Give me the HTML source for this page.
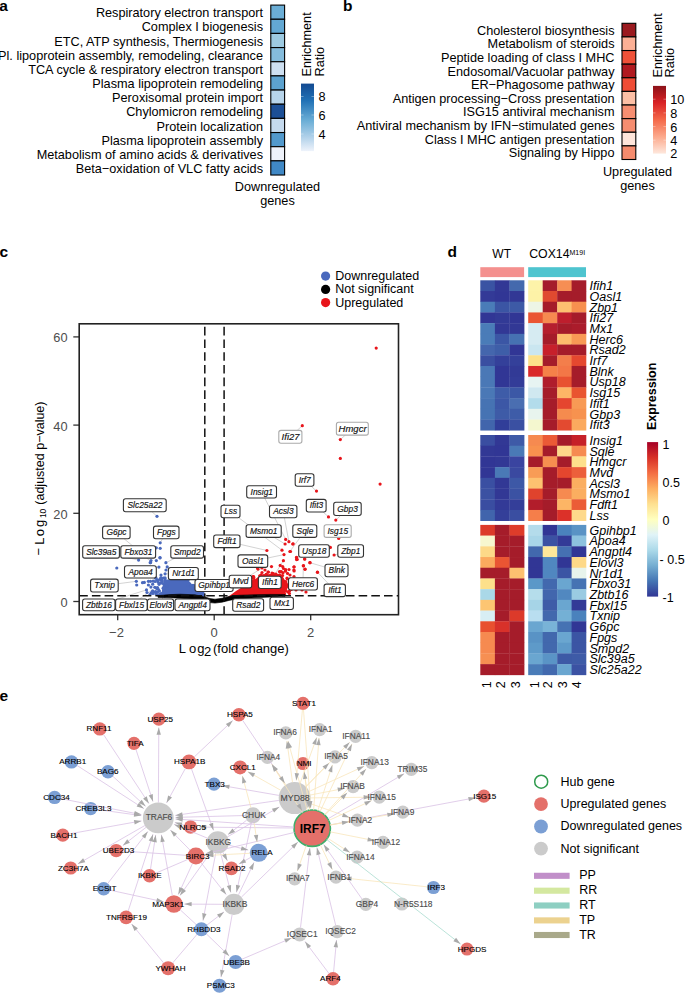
<!DOCTYPE html>
<html><head><meta charset="utf-8"><style>
html,body{margin:0;padding:0;background:#fff;}
svg{display:block;font-family:"Liberation Sans",sans-serif;}
</style></head><body>
<svg width="685" height="995" viewBox="0 0 685 995">
<rect width="685" height="995" fill="#fff"/>
<text x="-0.8" y="10.6" font-size="15.5" font-weight="bold">a</text>
<rect x="270.8" y="5.10" width="13.80" height="14.16" fill="#6baed6" stroke="#000" stroke-width="1.1"/>
<text x="263.0" y="17.2" font-size="12.7" text-anchor="end" >Respiratory electron transport</text>
<rect x="270.8" y="19.26" width="13.80" height="14.16" fill="#63a8d3" stroke="#000" stroke-width="1.1"/>
<text x="263.0" y="31.3" font-size="12.7" text-anchor="end" >Complex I biogenesis</text>
<rect x="270.8" y="33.42" width="13.80" height="14.16" fill="#9dcae1" stroke="#000" stroke-width="1.1"/>
<text x="263.0" y="45.5" font-size="12.7" text-anchor="end" >ETC, ATP synthesis, Thermiogenesis</text>
<rect x="270.8" y="47.58" width="13.80" height="14.16" fill="#85bcdc" stroke="#000" stroke-width="1.1"/>
<text x="263.0" y="59.7" font-size="12.7" text-anchor="end" >Pl. lipoprotein assembly, remodeling, clearance</text>
<rect x="270.8" y="61.74" width="13.80" height="14.16" fill="#cddff0" stroke="#000" stroke-width="1.1"/>
<text x="263.0" y="73.8" font-size="12.7" text-anchor="end" >TCA cycle &amp; respiratory electron transport</text>
<rect x="270.8" y="75.90" width="13.80" height="14.16" fill="#5ca2cf" stroke="#000" stroke-width="1.1"/>
<text x="263.0" y="88.0" font-size="12.7" text-anchor="end" >Plasma lipoprotein remodeling</text>
<rect x="270.8" y="90.06" width="13.80" height="14.16" fill="#b7d4ea" stroke="#000" stroke-width="1.1"/>
<text x="263.0" y="102.1" font-size="12.7" text-anchor="end" >Peroxisomal protein import</text>
<rect x="270.8" y="104.22" width="13.80" height="14.16" fill="#1c4f96" stroke="#000" stroke-width="1.1"/>
<text x="263.0" y="116.3" font-size="12.7" text-anchor="end" >Chylomicron remodeling</text>
<rect x="270.8" y="118.38" width="13.80" height="14.16" fill="#c5daee" stroke="#000" stroke-width="1.1"/>
<text x="263.0" y="130.5" font-size="12.7" text-anchor="end" >Protein localization</text>
<rect x="270.8" y="132.54" width="13.80" height="14.16" fill="#5299cc" stroke="#000" stroke-width="1.1"/>
<text x="263.0" y="144.6" font-size="12.7" text-anchor="end" >Plasma lipoprotein assembly</text>
<rect x="270.8" y="146.70" width="13.80" height="14.16" fill="#eef2fa" stroke="#000" stroke-width="1.1"/>
<text x="263.0" y="158.8" font-size="12.7" text-anchor="end" >Metabolism of amino acids &amp; derivatives</text>
<rect x="270.8" y="160.86" width="13.80" height="14.16" fill="#4088c5" stroke="#000" stroke-width="1.1"/>
<text x="263.0" y="172.9" font-size="12.7" text-anchor="end" >Beta−oxidation of VLC fatty acids</text>
<defs><linearGradient id="gA" x1="0" y1="0" x2="0" y2="1"><stop offset="0" stop-color="#134a91"/><stop offset="0.25" stop-color="#2171b5"/><stop offset="0.55" stop-color="#6baed6"/><stop offset="0.8" stop-color="#b3d2ea"/><stop offset="1" stop-color="#eef3fb"/></linearGradient></defs>
<rect x="301" y="83.6" width="13" height="67.5" fill="url(#gA)"/>
<text x="318.5" y="101.0" font-size="12.7" text-anchor="start" >8</text>
<line x1="301" x2="303.5" y1="96.5" y2="96.5" stroke="#fff" stroke-opacity="0.6" stroke-width="0.6"/>
<line x1="311.5" x2="314" y1="96.5" y2="96.5" stroke="#fff" stroke-opacity="0.6" stroke-width="0.6"/>
<text x="318.5" y="119.5" font-size="12.7" text-anchor="start" >6</text>
<line x1="301" x2="303.5" y1="115" y2="115" stroke="#fff" stroke-opacity="0.6" stroke-width="0.6"/>
<line x1="311.5" x2="314" y1="115" y2="115" stroke="#fff" stroke-opacity="0.6" stroke-width="0.6"/>
<text x="318.5" y="138.5" font-size="12.7" text-anchor="start" >4</text>
<line x1="301" x2="303.5" y1="134" y2="134" stroke="#fff" stroke-opacity="0.6" stroke-width="0.6"/>
<line x1="311.5" x2="314" y1="134" y2="134" stroke="#fff" stroke-opacity="0.6" stroke-width="0.6"/>
<text x="0.0" y="0.0" font-size="12.7" text-anchor="start" transform="translate(310.5,76.5) rotate(-90)">Enrichment</text>
<text x="0.0" y="0.0" font-size="12.7" text-anchor="start" transform="translate(323.5,76.5) rotate(-90)">Ratio</text>
<text x="277.5" y="191.0" font-size="12.7" text-anchor="middle" >Downregulated</text>
<text x="277.5" y="205.0" font-size="12.7" text-anchor="middle" >genes</text>
<text x="342.9" y="10.6" font-size="15.5" font-weight="bold">b</text>
<rect x="622.0" y="23.30" width="13.80" height="13.62" fill="#9a1a1f" stroke="#000" stroke-width="1.1"/>
<text x="614.5" y="34.6" font-size="12.7" text-anchor="end" >Cholesterol biosynthesis</text>
<rect x="622.0" y="36.92" width="13.80" height="13.62" fill="#fcb095" stroke="#000" stroke-width="1.1"/>
<text x="614.5" y="48.2" font-size="12.7" text-anchor="end" >Metabolism of steroids</text>
<rect x="622.0" y="50.54" width="13.80" height="13.62" fill="#ef5138" stroke="#000" stroke-width="1.1"/>
<text x="614.5" y="61.9" font-size="12.7" text-anchor="end" >Peptide loading of class I MHC</text>
<rect x="622.0" y="64.16" width="13.80" height="13.62" fill="#b0191f" stroke="#000" stroke-width="1.1"/>
<text x="614.5" y="75.5" font-size="12.7" text-anchor="end" >Endosomal/Vacuolar pathway</text>
<rect x="622.0" y="77.78" width="13.80" height="13.62" fill="#ef4c35" stroke="#000" stroke-width="1.1"/>
<text x="614.5" y="89.1" font-size="12.7" text-anchor="end" >ER−Phagosome pathway</text>
<rect x="622.0" y="91.40" width="13.80" height="13.62" fill="#fcbfa5" stroke="#000" stroke-width="1.1"/>
<text x="614.5" y="102.7" font-size="12.7" text-anchor="end" >Antigen processing−Cross presentation</text>
<rect x="622.0" y="105.02" width="13.80" height="13.62" fill="#f68e71" stroke="#000" stroke-width="1.1"/>
<text x="614.5" y="116.3" font-size="12.7" text-anchor="end" >ISG15 antiviral mechanism</text>
<rect x="622.0" y="118.64" width="13.80" height="13.62" fill="#f68d70" stroke="#000" stroke-width="1.1"/>
<text x="614.5" y="129.9" font-size="12.7" text-anchor="end" >Antiviral mechanism by IFN−stimulated genes</text>
<rect x="622.0" y="132.26" width="13.80" height="13.62" fill="#fee5da" stroke="#000" stroke-width="1.1"/>
<text x="614.5" y="143.6" font-size="12.7" text-anchor="end" >Class I MHC antigen presentation</text>
<rect x="622.0" y="145.88" width="13.80" height="13.62" fill="#f58b6d" stroke="#000" stroke-width="1.1"/>
<text x="614.5" y="157.2" font-size="12.7" text-anchor="end" >Signaling by Hippo</text>
<defs><linearGradient id="gB" x1="0" y1="0" x2="0" y2="1"><stop offset="0" stop-color="#8c1219"/><stop offset="0.25" stop-color="#d92326"/><stop offset="0.5" stop-color="#f4694a"/><stop offset="0.75" stop-color="#fca98c"/><stop offset="1" stop-color="#fee8dd"/></linearGradient></defs>
<rect x="653" y="85.9" width="13" height="67.7" fill="url(#gB)"/>
<text x="670.2" y="104.2" font-size="12.7" text-anchor="start" >10</text>
<line x1="653" x2="655.5" y1="99.2" y2="99.2" stroke="#fff" stroke-opacity="0.6" stroke-width="0.6"/>
<line x1="663.5" x2="666" y1="99.2" y2="99.2" stroke="#fff" stroke-opacity="0.6" stroke-width="0.6"/>
<text x="670.2" y="117.9" font-size="12.7" text-anchor="start" >8</text>
<line x1="653" x2="655.5" y1="112.9" y2="112.9" stroke="#fff" stroke-opacity="0.6" stroke-width="0.6"/>
<line x1="663.5" x2="666" y1="112.9" y2="112.9" stroke="#fff" stroke-opacity="0.6" stroke-width="0.6"/>
<text x="670.2" y="131.6" font-size="12.7" text-anchor="start" >6</text>
<line x1="653" x2="655.5" y1="126.6" y2="126.6" stroke="#fff" stroke-opacity="0.6" stroke-width="0.6"/>
<line x1="663.5" x2="666" y1="126.6" y2="126.6" stroke="#fff" stroke-opacity="0.6" stroke-width="0.6"/>
<text x="670.2" y="145.2" font-size="12.7" text-anchor="start" >4</text>
<line x1="653" x2="655.5" y1="140.2" y2="140.2" stroke="#fff" stroke-opacity="0.6" stroke-width="0.6"/>
<line x1="663.5" x2="666" y1="140.2" y2="140.2" stroke="#fff" stroke-opacity="0.6" stroke-width="0.6"/>
<text x="670.2" y="157.8" font-size="12.7" text-anchor="start" >2</text>
<text x="0.0" y="0.0" font-size="12.7" text-anchor="start" transform="translate(661.5,77.5) rotate(-90)">Enrichment</text>
<text x="0.0" y="0.0" font-size="12.7" text-anchor="start" transform="translate(674,77.5) rotate(-90)">Ratio</text>
<text x="637.5" y="176.4" font-size="12.7" text-anchor="middle" >Upregulated</text>
<text x="637.5" y="190.0" font-size="12.7" text-anchor="middle" >genes</text>
<text x="-0.6" y="256.7" font-size="15.5" font-weight="bold">c</text>
<circle cx="325.6" cy="276.1" r="4.6" fill="#4a69bd"/>
<text x="335.2" y="280.0" font-size="12.5" text-anchor="start" >Downregulated</text>
<circle cx="325.6" cy="289.4" r="4.6" fill="#000"/>
<text x="335.2" y="293.3" font-size="12.5" text-anchor="start" >Not significant</text>
<circle cx="325.6" cy="302.6" r="4.6" fill="#e8151b"/>
<text x="335.2" y="306.5" font-size="12.5" text-anchor="start" >Upregulated</text>
<line x1="73.3" x2="79.2" y1="601.5" y2="601.5" stroke="#333" stroke-width="1.3"/>
<text x="67.6" y="606.9" font-size="12.8" text-anchor="end" fill="#4d4d4d">0</text>
<line x1="73.3" x2="79.2" y1="513.3" y2="513.3" stroke="#333" stroke-width="1.3"/>
<text x="67.6" y="518.7" font-size="12.8" text-anchor="end" fill="#4d4d4d">20</text>
<line x1="73.3" x2="79.2" y1="425.1" y2="425.1" stroke="#333" stroke-width="1.3"/>
<text x="67.6" y="430.5" font-size="12.8" text-anchor="end" fill="#4d4d4d">40</text>
<line x1="73.3" x2="79.2" y1="336.9" y2="336.9" stroke="#333" stroke-width="1.3"/>
<text x="67.6" y="342.3" font-size="12.8" text-anchor="end" fill="#4d4d4d">60</text>
<line x1="117.7" x2="117.7" y1="614.7" y2="620.3" stroke="#333" stroke-width="1.3"/>
<text x="116.5" y="636.8" font-size="13" text-anchor="middle" fill="#4d4d4d">−2</text>
<line x1="214.2" x2="214.2" y1="614.7" y2="620.3" stroke="#333" stroke-width="1.3"/>
<text x="214.2" y="636.8" font-size="13" text-anchor="middle" fill="#4d4d4d">0</text>
<line x1="310.7" x2="310.7" y1="614.7" y2="620.3" stroke="#333" stroke-width="1.3"/>
<text x="310.7" y="636.8" font-size="13" text-anchor="middle" fill="#4d4d4d">2</text>
<text font-size="13" y="652.8"><tspan x="178.85">L</tspan><tspan x="188.95">o</tspan><tspan x="197.15">g</tspan><tspan x="203.9" dy="3">2</tspan><tspan x="213.0" dy="-3">(fold change)</tspan></text>
<text font-size="13" transform="translate(43.9,559.5) rotate(-90)"><tspan x="4.0" dy="-0.9">−</tspan><tspan x="14.75" dy="0.9">L</tspan><tspan x="23.35">o</tspan><tspan x="32.45">g</tspan><tspan x="41.4" dy="2.4" font-size="8.5">10</tspan><tspan x="54.8" dy="-2.4" font-size="12.5">(adjusted p−value)</tspan></text>
<defs><clipPath id="cpC"><rect x="79.2" y="323.8" width="319.3" height="290.90000000000003"/></clipPath></defs>
<g clip-path="url(#cpC)">
<line x1="151.9" y1="511.7" x2="157.0" y2="516.3" stroke="#b5b5b5" stroke-width="0.6"/>
<line x1="124.0" y1="538.7" x2="140.0" y2="552.0" stroke="#b5b5b5" stroke-width="0.6"/>
<line x1="162.6" y1="538.7" x2="160.2" y2="542.8" stroke="#b5b5b5" stroke-width="0.6"/>
<line x1="119.4" y1="555.9" x2="138.6" y2="560.1" stroke="#b5b5b5" stroke-width="0.6"/>
<line x1="146.6" y1="558.1" x2="150.5" y2="561.0" stroke="#b5b5b5" stroke-width="0.6"/>
<line x1="175.0" y1="558.1" x2="166.0" y2="562.7" stroke="#b5b5b5" stroke-width="0.6"/>
<line x1="156.3" y1="567.7" x2="159.0" y2="567.0" stroke="#b5b5b5" stroke-width="0.6"/>
<line x1="168.4" y1="573.8" x2="167.0" y2="573.8" stroke="#b5b5b5" stroke-width="0.6"/>
<line x1="118.2" y1="583.7" x2="136.5" y2="581.3" stroke="#b5b5b5" stroke-width="0.6"/>
<line x1="195.0" y1="585.1" x2="188.0" y2="585.0" stroke="#b5b5b5" stroke-width="0.6"/>
<line x1="115.0" y1="599.8" x2="146.5" y2="589.9" stroke="#b5b5b5" stroke-width="0.6"/>
<line x1="139.5" y1="599.0" x2="152.0" y2="590.0" stroke="#b5b5b5" stroke-width="0.6"/>
<line x1="162.3" y1="599.0" x2="165.0" y2="590.0" stroke="#b5b5b5" stroke-width="0.6"/>
<line x1="194.4" y1="599.0" x2="196.0" y2="594.0" stroke="#b5b5b5" stroke-width="0.6"/>
<line x1="297.2" y1="430.4" x2="302.3" y2="425.7" stroke="#b5b5b5" stroke-width="0.6"/>
<line x1="345.3" y1="435.1" x2="340.3" y2="439.6" stroke="#b5b5b5" stroke-width="0.6"/>
<line x1="311.3" y1="486.3" x2="316.5" y2="491.1" stroke="#b5b5b5" stroke-width="0.6"/>
<line x1="264.7" y1="498.0" x2="285.7" y2="539.4" stroke="#b5b5b5" stroke-width="0.6"/>
<line x1="323.1" y1="512.0" x2="328.5" y2="516.9" stroke="#b5b5b5" stroke-width="0.6"/>
<line x1="340.6" y1="515.5" x2="335.8" y2="520.1" stroke="#b5b5b5" stroke-width="0.6"/>
<line x1="238.8" y1="517.8" x2="282.0" y2="550.2" stroke="#b5b5b5" stroke-width="0.6"/>
<line x1="284.4" y1="517.8" x2="288.9" y2="541.7" stroke="#b5b5b5" stroke-width="0.6"/>
<line x1="274.1" y1="537.4" x2="285.1" y2="544.0" stroke="#b5b5b5" stroke-width="0.6"/>
<line x1="300.2" y1="537.4" x2="289.9" y2="551.5" stroke="#b5b5b5" stroke-width="0.6"/>
<line x1="338.4" y1="537.4" x2="338.5" y2="538.2" stroke="#b5b5b5" stroke-width="0.6"/>
<line x1="240.0" y1="544.3" x2="266.9" y2="550.5" stroke="#b5b5b5" stroke-width="0.6"/>
<line x1="329.3" y1="547.6" x2="330.4" y2="547.4" stroke="#b5b5b5" stroke-width="0.6"/>
<line x1="337.8" y1="554.1" x2="334.1" y2="555.0" stroke="#b5b5b5" stroke-width="0.6"/>
<line x1="267.7" y1="558.0" x2="284.0" y2="554.6" stroke="#b5b5b5" stroke-width="0.6"/>
<line x1="325.0" y1="567.1" x2="309.9" y2="562.7" stroke="#b5b5b5" stroke-width="0.6"/>
<line x1="250.4" y1="575.3" x2="262.0" y2="568.0" stroke="#b5b5b5" stroke-width="0.6"/>
<line x1="273.7" y1="576.2" x2="283.4" y2="560.7" stroke="#b5b5b5" stroke-width="0.6"/>
<line x1="303.1" y1="577.7" x2="303.3" y2="565.8" stroke="#b5b5b5" stroke-width="0.6"/>
<line x1="328.8" y1="584.1" x2="317.4" y2="572.1" stroke="#b5b5b5" stroke-width="0.6"/>
<line x1="259.6" y1="598.7" x2="270.0" y2="593.0" stroke="#b5b5b5" stroke-width="0.6"/>
<line x1="282.3" y1="597.2" x2="283.0" y2="590.0" stroke="#b5b5b5" stroke-width="0.6"/>
<path d="M161,596 L162,590 L163,584 L164,580 L170,579.3 L178,579 L187,579.3 L190,582 L193,585.5 L197,590 L200,593 L203,595.5 L203,597 L161,597 Z" fill="#4a69bd"/>
<path d="M228,597 L236,591 L244,586 L250,582 L255,579.5 L258,577 L262,575 L270,574 L278,574 L283,577 L286,582 L287.5,588 L286,592 L283,595.5 L275,596.5 L228,597.5 Z" fill="#e8151b"/>
<circle cx="157" cy="516.3" r="1.6" fill="#4a69bd"/>
<circle cx="160.2" cy="542.8" r="1.6" fill="#4a69bd"/>
<circle cx="160.2" cy="548.3" r="1.6" fill="#4a69bd"/>
<circle cx="156.3" cy="547.8" r="1.6" fill="#4a69bd"/>
<circle cx="160" cy="557.7" r="1.6" fill="#4a69bd"/>
<circle cx="156.3" cy="560.6" r="1.6" fill="#4a69bd"/>
<circle cx="151" cy="560.6" r="1.6" fill="#4a69bd"/>
<circle cx="150.6" cy="562.6" r="1.6" fill="#4a69bd"/>
<circle cx="138.6" cy="560.1" r="1.6" fill="#4a69bd"/>
<circle cx="165.9" cy="562.7" r="1.6" fill="#4a69bd"/>
<circle cx="158.9" cy="567.1" r="1.6" fill="#4a69bd"/>
<circle cx="167.2" cy="566.9" r="1.6" fill="#4a69bd"/>
<circle cx="150.2" cy="562.7" r="1.6" fill="#4a69bd"/>
<circle cx="160" cy="557.8" r="1.6" fill="#4a69bd"/>
<circle cx="165.1" cy="573.8" r="1.6" fill="#4a69bd"/>
<circle cx="166" cy="570" r="1.6" fill="#4a69bd"/>
<circle cx="140" cy="552" r="1.6" fill="#4a69bd"/>
<circle cx="136.3" cy="581.3" r="1.6" fill="#4a69bd"/>
<circle cx="136.7" cy="585" r="1.6" fill="#4a69bd"/>
<circle cx="142.5" cy="582.7" r="1.6" fill="#4a69bd"/>
<circle cx="144.3" cy="582.4" r="1.6" fill="#4a69bd"/>
<circle cx="148.4" cy="581.3" r="1.6" fill="#4a69bd"/>
<circle cx="150.5" cy="581.3" r="1.6" fill="#4a69bd"/>
<circle cx="152.7" cy="584.2" r="1.6" fill="#4a69bd"/>
<circle cx="148.4" cy="585" r="1.6" fill="#4a69bd"/>
<circle cx="150.9" cy="587.1" r="1.6" fill="#4a69bd"/>
<circle cx="146.5" cy="589.9" r="1.6" fill="#4a69bd"/>
<circle cx="152.7" cy="590.8" r="1.6" fill="#4a69bd"/>
<circle cx="157" cy="580" r="1.6" fill="#4a69bd"/>
<circle cx="158" cy="582" r="1.6" fill="#4a69bd"/>
<circle cx="159" cy="583" r="1.6" fill="#4a69bd"/>
<circle cx="157.5" cy="587.5" r="1.6" fill="#4a69bd"/>
<circle cx="158.5" cy="589.5" r="1.6" fill="#4a69bd"/>
<circle cx="155" cy="592" r="1.6" fill="#4a69bd"/>
<circle cx="153" cy="593.5" r="1.6" fill="#4a69bd"/>
<circle cx="160" cy="579.5" r="1.6" fill="#4a69bd"/>
<circle cx="147" cy="592.5" r="1.6" fill="#4a69bd"/>
<circle cx="150" cy="594.5" r="1.6" fill="#4a69bd"/>
<circle cx="156" cy="594" r="1.6" fill="#4a69bd"/>
<circle cx="161" cy="575" r="1.6" fill="#4a69bd"/>
<circle cx="163.5" cy="578" r="1.6" fill="#4a69bd"/>
<circle cx="188" cy="585" r="1.6" fill="#4a69bd"/>
<circle cx="190.5" cy="586" r="1.6" fill="#4a69bd"/>
<circle cx="116.8" cy="568" r="1.6" fill="#4a69bd"/>
<circle cx="154.8" cy="587.3" r="1.6" fill="#4a69bd"/>
<circle cx="156.9" cy="588.5" r="1.6" fill="#4a69bd"/>
<circle cx="161.0" cy="578.2" r="1.6" fill="#4a69bd"/>
<circle cx="151.2" cy="592.9" r="1.6" fill="#4a69bd"/>
<circle cx="155.1" cy="581.5" r="1.6" fill="#4a69bd"/>
<circle cx="166.9" cy="585.9" r="1.6" fill="#4a69bd"/>
<circle cx="164.4" cy="586.1" r="1.6" fill="#4a69bd"/>
<circle cx="161.2" cy="579.9" r="1.6" fill="#4a69bd"/>
<circle cx="161.2" cy="593.5" r="1.6" fill="#4a69bd"/>
<circle cx="159.4" cy="591.1" r="1.6" fill="#4a69bd"/>
<circle cx="161.7" cy="578.2" r="1.6" fill="#4a69bd"/>
<circle cx="163.1" cy="588.2" r="1.6" fill="#4a69bd"/>
<circle cx="155.8" cy="577.6" r="1.6" fill="#4a69bd"/>
<circle cx="164.8" cy="586.0" r="1.6" fill="#4a69bd"/>
<circle cx="162.5" cy="593.7" r="1.6" fill="#4a69bd"/>
<circle cx="162.4" cy="594.5" r="1.6" fill="#4a69bd"/>
<circle cx="157.3" cy="592.2" r="1.6" fill="#4a69bd"/>
<circle cx="158.1" cy="594.8" r="1.6" fill="#4a69bd"/>
<circle cx="165.1" cy="578.9" r="1.6" fill="#4a69bd"/>
<circle cx="153.2" cy="581.1" r="1.6" fill="#4a69bd"/>
<circle cx="166.4" cy="585.3" r="1.6" fill="#4a69bd"/>
<circle cx="161.0" cy="582.7" r="1.6" fill="#4a69bd"/>
<circle cx="159.1" cy="584.3" r="1.6" fill="#4a69bd"/>
<circle cx="156.6" cy="588.1" r="1.6" fill="#4a69bd"/>
<circle cx="160.3" cy="594.2" r="1.6" fill="#4a69bd"/>
<circle cx="161.9" cy="594.6" r="1.6" fill="#4a69bd"/>
<circle cx="164.7" cy="595.8" r="1.6" fill="#4a69bd"/>
<circle cx="161.7" cy="580.1" r="1.6" fill="#4a69bd"/>
<circle cx="164.8" cy="595.3" r="1.6" fill="#4a69bd"/>
<circle cx="165.5" cy="587.8" r="1.6" fill="#4a69bd"/>
<circle cx="162.4" cy="581.0" r="1.6" fill="#4a69bd"/>
<circle cx="164.3" cy="587.9" r="1.6" fill="#4a69bd"/>
<circle cx="155.6" cy="578.2" r="1.6" fill="#4a69bd"/>
<circle cx="164.7" cy="595.8" r="1.6" fill="#4a69bd"/>
<circle cx="152.4" cy="592.2" r="1.6" fill="#4a69bd"/>
<circle cx="157.6" cy="579.9" r="1.6" fill="#4a69bd"/>
<circle cx="155.7" cy="591.6" r="1.6" fill="#4a69bd"/>
<circle cx="165.0" cy="577.8" r="1.6" fill="#4a69bd"/>
<circle cx="160.8" cy="577.9" r="1.6" fill="#4a69bd"/>
<circle cx="162.5" cy="583.3" r="1.6" fill="#4a69bd"/>
<circle cx="202.5" cy="593.0" r="1.6" fill="#4a69bd"/>
<circle cx="202.8" cy="595.4" r="1.6" fill="#4a69bd"/>
<circle cx="197.4" cy="589.0" r="1.6" fill="#4a69bd"/>
<circle cx="193.0" cy="585.4" r="1.6" fill="#4a69bd"/>
<circle cx="188.4" cy="579.4" r="1.6" fill="#4a69bd"/>
<circle cx="203.3" cy="593.7" r="1.6" fill="#4a69bd"/>
<circle cx="192.7" cy="586.4" r="1.6" fill="#4a69bd"/>
<circle cx="195.0" cy="588.1" r="1.6" fill="#4a69bd"/>
<circle cx="200.8" cy="594.0" r="1.6" fill="#4a69bd"/>
<circle cx="198.6" cy="591.7" r="1.6" fill="#4a69bd"/>
<circle cx="201.1" cy="594.5" r="1.6" fill="#4a69bd"/>
<circle cx="185.8" cy="580.5" r="1.6" fill="#4a69bd"/>
<circle cx="186.1" cy="578.7" r="1.6" fill="#4a69bd"/>
<circle cx="187.0" cy="579.5" r="1.6" fill="#4a69bd"/>
<circle cx="196.7" cy="591.5" r="1.6" fill="#4a69bd"/>
<circle cx="199.2" cy="591.0" r="1.6" fill="#4a69bd"/>
<circle cx="198.7" cy="589.8" r="1.6" fill="#4a69bd"/>
<circle cx="193.4" cy="586.0" r="1.6" fill="#4a69bd"/>
<circle cx="192.4" cy="586.2" r="1.6" fill="#4a69bd"/>
<circle cx="196.2" cy="589.8" r="1.6" fill="#4a69bd"/>
<circle cx="200.9" cy="591.7" r="1.6" fill="#4a69bd"/>
<circle cx="198.4" cy="591.7" r="1.6" fill="#4a69bd"/>
<circle cx="199.9" cy="592.7" r="1.6" fill="#4a69bd"/>
<circle cx="193.8" cy="585.7" r="1.6" fill="#4a69bd"/>
<circle cx="191.0" cy="586.5" r="1.6" fill="#4a69bd"/>
<circle cx="376.2" cy="348.1" r="1.6" fill="#e8151b"/>
<circle cx="302.3" cy="425.7" r="1.6" fill="#e8151b"/>
<circle cx="340.3" cy="439.6" r="1.6" fill="#e8151b"/>
<circle cx="340.3" cy="458.4" r="1.6" fill="#e8151b"/>
<circle cx="380.1" cy="484.1" r="1.6" fill="#e8151b"/>
<circle cx="316.5" cy="491.1" r="1.6" fill="#e8151b"/>
<circle cx="328.5" cy="516.9" r="1.6" fill="#e8151b"/>
<circle cx="335.8" cy="520.1" r="1.6" fill="#e8151b"/>
<circle cx="338.7" cy="538.4" r="1.6" fill="#e8151b"/>
<circle cx="330.4" cy="547.4" r="1.6" fill="#e8151b"/>
<circle cx="334.1" cy="555" r="1.6" fill="#e8151b"/>
<circle cx="285.7" cy="539.4" r="1.6" fill="#e8151b"/>
<circle cx="288.9" cy="541.7" r="1.6" fill="#e8151b"/>
<circle cx="285.1" cy="544" r="1.6" fill="#e8151b"/>
<circle cx="292.8" cy="544" r="1.6" fill="#e8151b"/>
<circle cx="266.9" cy="550.5" r="1.6" fill="#e8151b"/>
<circle cx="282" cy="550.2" r="1.6" fill="#e8151b"/>
<circle cx="289.9" cy="551.5" r="1.6" fill="#e8151b"/>
<circle cx="284" cy="554.6" r="1.6" fill="#e8151b"/>
<circle cx="296.5" cy="557.4" r="1.6" fill="#e8151b"/>
<circle cx="297.2" cy="559.4" r="1.6" fill="#e8151b"/>
<circle cx="304.6" cy="559" r="1.6" fill="#e8151b"/>
<circle cx="310" cy="562.7" r="1.6" fill="#e8151b"/>
<circle cx="283.4" cy="560.7" r="1.6" fill="#e8151b"/>
<circle cx="303.5" cy="565.7" r="1.6" fill="#e8151b"/>
<circle cx="305" cy="569.3" r="1.6" fill="#e8151b"/>
<circle cx="317.5" cy="572.3" r="1.6" fill="#e8151b"/>
<circle cx="293.1" cy="543.8" r="1.6" fill="#e8151b"/>
<circle cx="290.5" cy="551.5" r="1.6" fill="#e8151b"/>
<circle cx="296.6" cy="557.6" r="1.6" fill="#e8151b"/>
<circle cx="296.6" cy="559.6" r="1.6" fill="#e8151b"/>
<circle cx="304.8" cy="559.1" r="1.6" fill="#e8151b"/>
<circle cx="309.9" cy="562.7" r="1.6" fill="#e8151b"/>
<circle cx="303.3" cy="565.8" r="1.6" fill="#e8151b"/>
<circle cx="305.1" cy="569" r="1.6" fill="#e8151b"/>
<circle cx="294.1" cy="566.8" r="1.6" fill="#e8151b"/>
<circle cx="294.1" cy="570.9" r="1.6" fill="#e8151b"/>
<circle cx="317.4" cy="572.1" r="1.6" fill="#e8151b"/>
<circle cx="294" cy="576.5" r="1.6" fill="#e8151b"/>
<circle cx="271.5" cy="566.6" r="1.6" fill="#e8151b"/>
<circle cx="282.7" cy="566.6" r="1.6" fill="#e8151b"/>
<circle cx="285.3" cy="571.2" r="1.6" fill="#e8151b"/>
<circle cx="283.5" cy="568.5" r="1.6" fill="#e8151b"/>
<circle cx="280" cy="571.9" r="1.6" fill="#e8151b"/>
<circle cx="262" cy="568" r="1.6" fill="#e8151b"/>
<circle cx="265" cy="570" r="1.6" fill="#e8151b"/>
<circle cx="268" cy="572" r="1.6" fill="#e8151b"/>
<circle cx="272" cy="573" r="1.6" fill="#e8151b"/>
<circle cx="262" cy="572.5" r="1.6" fill="#e8151b"/>
<circle cx="266" cy="574.5" r="1.6" fill="#e8151b"/>
<circle cx="293.9" cy="567" r="1.6" fill="#e8151b"/>
<circle cx="293.9" cy="570" r="1.6" fill="#e8151b"/>
<circle cx="300" cy="580" r="1.6" fill="#e8151b"/>
<circle cx="303" cy="583" r="1.6" fill="#e8151b"/>
<circle cx="298" cy="586" r="1.6" fill="#e8151b"/>
<circle cx="290" cy="575" r="1.6" fill="#e8151b"/>
<circle cx="287" cy="578" r="1.6" fill="#e8151b"/>
<circle cx="285" cy="582" r="1.6" fill="#e8151b"/>
<circle cx="292" cy="580" r="1.6" fill="#e8151b"/>
<circle cx="296" cy="590" r="1.6" fill="#e8151b"/>
<circle cx="290" cy="588" r="1.6" fill="#e8151b"/>
<circle cx="302" cy="590" r="1.6" fill="#e8151b"/>
<circle cx="306" cy="592" r="1.6" fill="#e8151b"/>
<circle cx="288" cy="592" r="1.6" fill="#e8151b"/>
<circle cx="284" cy="586" r="1.6" fill="#e8151b"/>
<circle cx="278" cy="578" r="1.6" fill="#e8151b"/>
<circle cx="276" cy="574" r="1.6" fill="#e8151b"/>
<circle cx="274" cy="577" r="1.6" fill="#e8151b"/>
<circle cx="280" cy="582" r="1.6" fill="#e8151b"/>
<circle cx="287" cy="585" r="1.6" fill="#e8151b"/>
<circle cx="253.2" cy="576.6" r="1.6" fill="#e8151b"/>
<circle cx="269.1" cy="576.8" r="1.6" fill="#e8151b"/>
<circle cx="257.5" cy="568.1" r="1.6" fill="#e8151b"/>
<circle cx="261.2" cy="574.8" r="1.6" fill="#e8151b"/>
<circle cx="272.2" cy="577.0" r="1.6" fill="#e8151b"/>
<circle cx="270.6" cy="579.9" r="1.6" fill="#e8151b"/>
<circle cx="268.4" cy="572.1" r="1.6" fill="#e8151b"/>
<circle cx="263.7" cy="580.2" r="1.6" fill="#e8151b"/>
<circle cx="258.0" cy="569.1" r="1.6" fill="#e8151b"/>
<circle cx="263.9" cy="575.5" r="1.6" fill="#e8151b"/>
<circle cx="262.8" cy="580.0" r="1.6" fill="#e8151b"/>
<circle cx="265.1" cy="577.2" r="1.6" fill="#e8151b"/>
<circle cx="259.7" cy="575.8" r="1.6" fill="#e8151b"/>
<circle cx="252.7" cy="578.2" r="1.6" fill="#e8151b"/>
<circle cx="266.4" cy="574.3" r="1.6" fill="#e8151b"/>
<circle cx="279.5" cy="571.5" r="1.6" fill="#e8151b"/>
<circle cx="273.4" cy="573.7" r="1.6" fill="#e8151b"/>
<circle cx="281.3" cy="571.5" r="1.6" fill="#e8151b"/>
<circle cx="284.0" cy="584.1" r="1.6" fill="#e8151b"/>
<circle cx="285.7" cy="569.7" r="1.6" fill="#e8151b"/>
<circle cx="280.1" cy="575.5" r="1.6" fill="#e8151b"/>
<circle cx="281.6" cy="579.0" r="1.6" fill="#e8151b"/>
<circle cx="287.2" cy="578.8" r="1.6" fill="#e8151b"/>
<circle cx="281.5" cy="584.9" r="1.6" fill="#e8151b"/>
<circle cx="290.3" cy="579.0" r="1.6" fill="#e8151b"/>
<circle cx="280.2" cy="565.4" r="1.6" fill="#e8151b"/>
<circle cx="289.0" cy="569.5" r="1.6" fill="#e8151b"/>
<circle cx="282.5" cy="575.6" r="1.6" fill="#e8151b"/>
<circle cx="282.9" cy="572.9" r="1.6" fill="#e8151b"/>
<circle cx="281.4" cy="583.0" r="1.6" fill="#e8151b"/>
<circle cx="279.4" cy="575.2" r="1.6" fill="#e8151b"/>
<circle cx="287.5" cy="573.4" r="1.6" fill="#e8151b"/>
<circle cx="247.5" cy="584.9" r="1.6" fill="#e8151b"/>
<circle cx="254.4" cy="580.4" r="1.6" fill="#e8151b"/>
<circle cx="251.1" cy="580.3" r="1.6" fill="#e8151b"/>
<circle cx="252.4" cy="586.5" r="1.6" fill="#e8151b"/>
<circle cx="251.5" cy="581.3" r="1.6" fill="#e8151b"/>
<circle cx="253.5" cy="576.5" r="1.6" fill="#e8151b"/>
<circle cx="253.9" cy="577.8" r="1.6" fill="#e8151b"/>
<circle cx="258.4" cy="583.2" r="1.6" fill="#e8151b"/>
<circle cx="251.2" cy="582.3" r="1.6" fill="#e8151b"/>
<circle cx="249.4" cy="585.4" r="1.6" fill="#e8151b"/>
<circle cx="243.8" cy="582.5" r="1.6" fill="#e8151b"/>
<circle cx="239.8" cy="583.9" r="1.6" fill="#e8151b"/>
<circle cx="252.0" cy="583.0" r="1.6" fill="#e8151b"/>
<circle cx="252.2" cy="584.1" r="1.6" fill="#e8151b"/>
<circle cx="264.8" cy="586.4" r="1.6" fill="#e8151b"/>
<circle cx="251.6" cy="582.0" r="1.6" fill="#e8151b"/>
<circle cx="244.8" cy="583.0" r="1.6" fill="#e8151b"/>
<circle cx="247.8" cy="585.6" r="1.6" fill="#e8151b"/>
<circle cx="245.2" cy="579.8" r="1.6" fill="#e8151b"/>
<circle cx="247.5" cy="584.5" r="1.6" fill="#e8151b"/>
<circle cx="289.3" cy="587.8" r="1.6" fill="#e8151b"/>
<circle cx="285.5" cy="583.8" r="1.6" fill="#e8151b"/>
<circle cx="289.1" cy="587.1" r="1.6" fill="#e8151b"/>
<circle cx="291.3" cy="589.5" r="1.6" fill="#e8151b"/>
<circle cx="285.8" cy="581.7" r="1.6" fill="#e8151b"/>
<circle cx="286.1" cy="590.9" r="1.6" fill="#e8151b"/>
<circle cx="269.9" cy="587.8" r="1.6" fill="#e8151b"/>
<circle cx="269.5" cy="592.5" r="1.6" fill="#e8151b"/>
<circle cx="273.6" cy="587.0" r="1.6" fill="#e8151b"/>
<circle cx="272.9" cy="586.9" r="1.6" fill="#e8151b"/>
<circle cx="276.3" cy="593.7" r="1.6" fill="#e8151b"/>
<circle cx="275.0" cy="588.9" r="1.6" fill="#e8151b"/>
<circle cx="268.5" cy="591.4" r="1.6" fill="#e8151b"/>
<circle cx="289.7" cy="585.2" r="1.6" fill="#e8151b"/>
<circle cx="264.0" cy="594.6" r="1.6" fill="#e8151b"/>
<circle cx="277.6" cy="587.7" r="1.6" fill="#e8151b"/>
<circle cx="272.0" cy="590.3" r="1.6" fill="#e8151b"/>
<circle cx="280.6" cy="585.9" r="1.6" fill="#e8151b"/>
<circle cx="286.8" cy="586.5" r="1.6" fill="#e8151b"/>
<circle cx="269.6" cy="585.8" r="1.6" fill="#e8151b"/>
<circle cx="272.6" cy="589.5" r="1.6" fill="#e8151b"/>
<circle cx="275.3" cy="589.8" r="1.6" fill="#e8151b"/>
<circle cx="284.6" cy="594.1" r="1.6" fill="#e8151b"/>
<circle cx="279.4" cy="590.4" r="1.6" fill="#e8151b"/>
<circle cx="289.4" cy="593.6" r="1.6" fill="#e8151b"/>
<circle cx="276.8" cy="590.6" r="1.6" fill="#e8151b"/>
<circle cx="278.2" cy="588.7" r="1.6" fill="#e8151b"/>
<circle cx="282.7" cy="586.3" r="1.6" fill="#e8151b"/>
<circle cx="286.2" cy="583.7" r="1.6" fill="#e8151b"/>
<circle cx="263.4" cy="587.4" r="1.6" fill="#e8151b"/>
<circle cx="289.3" cy="591.2" r="1.6" fill="#e8151b"/>
<path d="M158,595.6 L170,594.6 L180,594.2 L195,594.8 L205,597.0 L210,598.6 L215,599.2 L222,598.3 L230,596.2 L240,595.2 L255,594.7 L270,594.4 L285,594.5 L285,596.6 L270,597.1 L255,597.7 L240,598.7 L230,600.2 L222,602.2 L215,603.1 L210,602.6 L205,601.2 L195,599.3 L180,598.2 L170,597.8 L158,597.4 Z" fill="#000" stroke="#000" stroke-width="0.6" stroke-linejoin="round"/>
</g>
<line x1="204.8" x2="204.8" y1="326.8" y2="614.7" stroke="#111" stroke-width="1.5" stroke-dasharray="8.6 4.1"/>
<line x1="224.1" x2="224.1" y1="326.8" y2="614.7" stroke="#111" stroke-width="1.5" stroke-dasharray="8.6 4.1"/>
<line x1="79.2" x2="398.5" y1="595.8" y2="595.8" stroke="#111" stroke-width="1.5" stroke-dasharray="8.6 4.1"/>
<rect x="123.4" y="498.7" width="42.8" height="13.0" rx="2.2" fill="#fff" stroke="#333" stroke-width="1.1"/>
<text x="145.0" y="507.8" font-size="8.4" font-style="italic" text-anchor="middle" fill="#111" stroke="#111" stroke-width="0.15">Slc25a22</text>
<rect x="102.6" y="526.1" width="27.5" height="12.6" rx="2.2" fill="#fff" stroke="#333" stroke-width="1.1"/>
<text x="116.5" y="535.0" font-size="8.4" font-style="italic" text-anchor="middle" fill="#111" stroke="#111" stroke-width="0.15">G6pc</text>
<rect x="153.5" y="526.1" width="25.5" height="12.6" rx="2.2" fill="#fff" stroke="#333" stroke-width="1.1"/>
<text x="166.4" y="535.0" font-size="8.4" font-style="italic" text-anchor="middle" fill="#111" stroke="#111" stroke-width="0.15">Fpgs</text>
<rect x="82.7" y="545.7" width="36.7" height="12.4" rx="2.2" fill="#fff" stroke="#333" stroke-width="1.1"/>
<text x="101.3" y="554.5" font-size="8.4" font-style="italic" text-anchor="middle" fill="#111" stroke="#111" stroke-width="0.15">Slc39a5</text>
<rect x="120.8" y="545.7" width="34.8" height="12.4" rx="2.2" fill="#fff" stroke="#333" stroke-width="1.1"/>
<text x="138.4" y="554.5" font-size="8.4" font-style="italic" text-anchor="middle" fill="#111" stroke="#111" stroke-width="0.15">Fbxo31</text>
<rect x="170.8" y="545.7" width="32.7" height="12.4" rx="2.2" fill="#fff" stroke="#333" stroke-width="1.1"/>
<text x="187.3" y="554.5" font-size="8.4" font-style="italic" text-anchor="middle" fill="#111" stroke="#111" stroke-width="0.15">Smpd2</text>
<rect x="124.5" y="565.8" width="31.8" height="12.2" rx="2.2" fill="#fff" stroke="#333" stroke-width="1.1"/>
<text x="140.6" y="574.5" font-size="8.4" font-style="italic" text-anchor="middle" fill="#111" stroke="#111" stroke-width="0.15">Apoa4</text>
<rect x="168.4" y="567.5" width="29.9" height="12.1" rx="2.2" fill="#fff" stroke="#333" stroke-width="1.1"/>
<text x="183.6" y="576.2" font-size="8.4" font-style="italic" text-anchor="middle" fill="#111" stroke="#111" stroke-width="0.15">Nr1d1</text>
<rect x="90.6" y="579.1" width="27.6" height="12.9" rx="2.2" fill="#fff" stroke="#333" stroke-width="1.1"/>
<text x="104.6" y="588.2" font-size="8.4" font-style="italic" text-anchor="middle" fill="#111" stroke="#111" stroke-width="0.15">Txnip</text>
<rect x="195.0" y="579.5" width="38.1" height="12.0" rx="2.2" fill="#fff" stroke="#333" stroke-width="1.1"/>
<text x="214.2" y="588.1" font-size="8.4" font-style="italic" text-anchor="middle" fill="#111" stroke="#111" stroke-width="0.15">Gpihbp1</text>
<rect x="82.6" y="599.0" width="32.4" height="11.7" rx="2.2" fill="#fff" stroke="#333" stroke-width="1.1"/>
<text x="99.0" y="607.5" font-size="8.4" font-style="italic" text-anchor="middle" fill="#111" stroke="#111" stroke-width="0.15">Zbtb16</text>
<rect x="115.6" y="599.0" width="31.6" height="11.7" rx="2.2" fill="#fff" stroke="#333" stroke-width="1.1"/>
<text x="131.6" y="607.5" font-size="8.4" font-style="italic" text-anchor="middle" fill="#111" stroke="#111" stroke-width="0.15">Fbxl15</text>
<rect x="147.5" y="599.0" width="26.1" height="11.7" rx="2.2" fill="#fff" stroke="#333" stroke-width="1.1"/>
<text x="160.8" y="607.5" font-size="8.4" font-style="italic" text-anchor="middle" fill="#111" stroke="#111" stroke-width="0.15">Elovl3</text>
<rect x="175.0" y="599.0" width="35.0" height="11.7" rx="2.2" fill="#fff" stroke="#333" stroke-width="1.1"/>
<text x="192.7" y="607.5" font-size="8.4" font-style="italic" text-anchor="middle" fill="#111" stroke="#111" stroke-width="0.15">Angptl4</text>
<rect x="278.8" y="430.4" width="23.1" height="12.8" rx="2.2" fill="#fff" stroke="#aaa" stroke-width="1.1"/>
<text x="290.6" y="439.7" font-size="9.5" font-style="italic" text-anchor="middle" fill="#111" stroke="#111" stroke-width="0.15">Ifi27</text>
<rect x="336.4" y="422.2" width="31.9" height="12.9" rx="2.2" fill="#fff" stroke="#aaa" stroke-width="1.1"/>
<text x="352.6" y="431.6" font-size="9.5" font-style="italic" text-anchor="middle" fill="#111" stroke="#111" stroke-width="0.15">Hmgcr</text>
<rect x="295.2" y="473.7" width="18.7" height="12.6" rx="2.2" fill="#fff" stroke="#333" stroke-width="1.1"/>
<text x="304.7" y="482.6" font-size="8.4" font-style="italic" text-anchor="middle" fill="#111" stroke="#111" stroke-width="0.15">Irf7</text>
<rect x="246.7" y="485.7" width="29.8" height="12.3" rx="2.2" fill="#fff" stroke="#333" stroke-width="1.1"/>
<text x="261.8" y="494.5" font-size="8.4" font-style="italic" text-anchor="middle" fill="#111" stroke="#111" stroke-width="0.15">Insig1</text>
<rect x="306.3" y="499.4" width="19.8" height="12.6" rx="2.2" fill="#fff" stroke="#333" stroke-width="1.1"/>
<text x="316.4" y="508.3" font-size="8.4" font-style="italic" text-anchor="middle" fill="#111" stroke="#111" stroke-width="0.15">Ifit3</text>
<rect x="333.7" y="502.3" width="27.5" height="13.2" rx="2.2" fill="#fff" stroke="#333" stroke-width="1.1"/>
<text x="347.6" y="511.5" font-size="8.4" font-style="italic" text-anchor="middle" fill="#111" stroke="#111" stroke-width="0.15">Gbp3</text>
<rect x="221.0" y="505.3" width="19.0" height="12.5" rx="2.2" fill="#fff" stroke="#333" stroke-width="1.1"/>
<text x="230.7" y="514.2" font-size="8.4" font-style="italic" text-anchor="middle" fill="#111" stroke="#111" stroke-width="0.15">Lss</text>
<rect x="269.5" y="505.3" width="27.4" height="12.5" rx="2.2" fill="#fff" stroke="#333" stroke-width="1.1"/>
<text x="283.4" y="514.2" font-size="8.4" font-style="italic" text-anchor="middle" fill="#111" stroke="#111" stroke-width="0.15">Acsl3</text>
<rect x="246.1" y="524.8" width="35.1" height="12.6" rx="2.2" fill="#fff" stroke="#333" stroke-width="1.1"/>
<text x="263.8" y="533.7" font-size="8.4" font-style="italic" text-anchor="middle" fill="#111" stroke="#111" stroke-width="0.15">Msmo1</text>
<rect x="292.8" y="524.8" width="24.0" height="12.6" rx="2.2" fill="#fff" stroke="#333" stroke-width="1.1"/>
<text x="305.0" y="533.7" font-size="8.4" font-style="italic" text-anchor="middle" fill="#111" stroke="#111" stroke-width="0.15">Sqle</text>
<rect x="324.1" y="524.8" width="27.1" height="12.6" rx="2.2" fill="#fff" stroke="#aaa" stroke-width="1.1"/>
<text x="337.8" y="533.7" font-size="8.4" font-style="italic" text-anchor="middle" fill="#111" stroke="#111" stroke-width="0.15">Isg15</text>
<rect x="213.7" y="535.0" width="26.3" height="12.6" rx="2.2" fill="#fff" stroke="#333" stroke-width="1.1"/>
<text x="227.0" y="543.9" font-size="8.4" font-style="italic" text-anchor="middle" fill="#111" stroke="#111" stroke-width="0.15">Fdft1</text>
<rect x="298.7" y="544.7" width="30.6" height="12.5" rx="2.2" fill="#fff" stroke="#333" stroke-width="1.1"/>
<text x="314.2" y="553.6" font-size="8.4" font-style="italic" text-anchor="middle" fill="#111" stroke="#111" stroke-width="0.15">Usp18</text>
<rect x="337.8" y="544.7" width="25.7" height="12.5" rx="2.2" fill="#fff" stroke="#333" stroke-width="1.1"/>
<text x="350.8" y="553.6" font-size="8.4" font-style="italic" text-anchor="middle" fill="#111" stroke="#111" stroke-width="0.15">Zbp1</text>
<rect x="238.0" y="554.9" width="29.7" height="12.5" rx="2.2" fill="#fff" stroke="#333" stroke-width="1.1"/>
<text x="253.0" y="563.8" font-size="8.4" font-style="italic" text-anchor="middle" fill="#111" stroke="#111" stroke-width="0.15">Oasl1</text>
<rect x="325.0" y="564.2" width="23.0" height="12.6" rx="2.2" fill="#fff" stroke="#333" stroke-width="1.1"/>
<text x="336.7" y="573.1" font-size="8.4" font-style="italic" text-anchor="middle" fill="#111" stroke="#111" stroke-width="0.15">Blnk</text>
<rect x="229.2" y="575.3" width="22.5" height="12.6" rx="2.2" fill="#fff" stroke="#333" stroke-width="1.1"/>
<text x="240.6" y="584.2" font-size="8.4" font-style="italic" text-anchor="middle" fill="#111" stroke="#111" stroke-width="0.15">Mvd</text>
<rect x="258.4" y="576.2" width="22.8" height="12.3" rx="2.2" fill="#fff" stroke="#333" stroke-width="1.1"/>
<text x="270.0" y="585.0" font-size="8.4" font-style="italic" text-anchor="middle" fill="#111" stroke="#111" stroke-width="0.15">Ifih1</text>
<rect x="288.5" y="577.7" width="28.9" height="12.3" rx="2.2" fill="#fff" stroke="#333" stroke-width="1.1"/>
<text x="303.1" y="586.5" font-size="8.4" font-style="italic" text-anchor="middle" fill="#111" stroke="#111" stroke-width="0.15">Herc6</text>
<rect x="324.1" y="584.1" width="21.3" height="12.5" rx="2.2" fill="#fff" stroke="#333" stroke-width="1.1"/>
<text x="334.9" y="593.0" font-size="8.4" font-style="italic" text-anchor="middle" fill="#111" stroke="#111" stroke-width="0.15">Ifit1</text>
<rect x="232.7" y="598.7" width="30.9" height="12.5" rx="2.2" fill="#fff" stroke="#333" stroke-width="1.1"/>
<text x="248.3" y="607.6" font-size="8.4" font-style="italic" text-anchor="middle" fill="#111" stroke="#111" stroke-width="0.15">Rsad2</text>
<rect x="270.0" y="597.2" width="23.4" height="12.3" rx="2.2" fill="#fff" stroke="#333" stroke-width="1.1"/>
<text x="281.9" y="606.0" font-size="8.4" font-style="italic" text-anchor="middle" fill="#111" stroke="#111" stroke-width="0.15">Mx1</text>
<rect x="79.2" y="323.8" width="319.3" height="290.9" fill="none" stroke="#222" stroke-width="1.6"/>
<text x="447.6" y="256.6" font-size="15.5" font-weight="bold">d</text>
<text x="501.7" y="257.9" font-size="12" text-anchor="middle">WT</text>
<text x="529.2" y="257.9" font-size="12.3">COX14<tspan font-size="7" dy="-3">M19I</tspan></text>
<rect x="480.3" y="267.2" width="43.8" height="9.9" fill="#f4908e"/>
<rect x="528.2" y="267.2" width="57.8" height="9.9" fill="#4ec4cf"/>
<rect x="480.3" y="280.30" width="14.9" height="11.01" fill="#3a53a3"/>
<rect x="494.9" y="280.30" width="14.9" height="11.01" fill="#323895"/>
<rect x="509.5" y="280.30" width="14.9" height="11.01" fill="#4469ad"/>
<rect x="528.2" y="280.30" width="14.8" height="11.01" fill="#fdf3a9"/>
<rect x="542.7" y="280.30" width="14.8" height="11.01" fill="#a51d2b"/>
<rect x="557.2" y="280.30" width="14.8" height="11.01" fill="#f68e54"/>
<rect x="571.6" y="280.30" width="14.700000000000001" height="11.01" fill="#a51c2a"/>
<text x="589.5" y="290.1" font-size="12.5" font-style="italic">Ifih1</text>
<rect x="480.3" y="291.01" width="14.9" height="11.01" fill="#333a97"/>
<rect x="494.9" y="291.01" width="14.9" height="11.01" fill="#313695"/>
<rect x="509.5" y="291.01" width="14.9" height="11.01" fill="#323895"/>
<rect x="528.2" y="291.01" width="14.8" height="11.01" fill="#fdf2a7"/>
<rect x="542.7" y="291.01" width="14.8" height="11.01" fill="#e04a30"/>
<rect x="557.2" y="291.01" width="14.8" height="11.01" fill="#a51c2a"/>
<rect x="571.6" y="291.01" width="14.700000000000001" height="11.01" fill="#a51c2a"/>
<text x="589.5" y="300.8" font-size="12.5" font-style="italic">Oasl1</text>
<rect x="480.3" y="301.72" width="14.9" height="11.01" fill="#4a7cb8"/>
<rect x="494.9" y="301.72" width="14.9" height="11.01" fill="#3b55a4"/>
<rect x="509.5" y="301.72" width="14.9" height="11.01" fill="#3d5aa6"/>
<rect x="528.2" y="301.72" width="14.8" height="11.01" fill="#edf5e6"/>
<rect x="542.7" y="301.72" width="14.8" height="11.01" fill="#a51c2a"/>
<rect x="557.2" y="301.72" width="14.8" height="11.01" fill="#fdc070"/>
<rect x="571.6" y="301.72" width="14.700000000000001" height="11.01" fill="#f7904f"/>
<text x="589.5" y="311.5" font-size="12.5" font-style="italic">Zbp1</text>
<rect x="480.3" y="312.43" width="14.9" height="11.01" fill="#313695"/>
<rect x="494.9" y="312.43" width="14.9" height="11.01" fill="#323a96"/>
<rect x="509.5" y="312.43" width="14.9" height="11.01" fill="#313695"/>
<rect x="528.2" y="312.43" width="14.8" height="11.01" fill="#ea5533"/>
<rect x="542.7" y="312.43" width="14.8" height="11.01" fill="#f68a50"/>
<rect x="557.2" y="312.43" width="14.8" height="11.01" fill="#be1e2d"/>
<rect x="571.6" y="312.43" width="14.700000000000001" height="11.01" fill="#a51c2a"/>
<text x="589.5" y="322.2" font-size="12.5" font-style="italic">Ifi27</text>
<rect x="480.3" y="323.14" width="14.9" height="11.01" fill="#4a7cb8"/>
<rect x="494.9" y="323.14" width="14.9" height="11.01" fill="#323895"/>
<rect x="509.5" y="323.14" width="14.9" height="11.01" fill="#323895"/>
<rect x="528.2" y="323.14" width="14.8" height="11.01" fill="#d6ebf2"/>
<rect x="542.7" y="323.14" width="14.8" height="11.01" fill="#b51f2e"/>
<rect x="557.2" y="323.14" width="14.8" height="11.01" fill="#a51c2a"/>
<rect x="571.6" y="323.14" width="14.700000000000001" height="11.01" fill="#ab1c2b"/>
<text x="589.5" y="332.9" font-size="12.5" font-style="italic">Mx1</text>
<rect x="480.3" y="333.85" width="14.9" height="11.01" fill="#4a7cb8"/>
<rect x="494.9" y="333.85" width="14.9" height="11.01" fill="#3b56a5"/>
<rect x="509.5" y="333.85" width="14.9" height="11.01" fill="#4671b2"/>
<rect x="528.2" y="333.85" width="14.8" height="11.01" fill="#d6ebf2"/>
<rect x="542.7" y="333.85" width="14.8" height="11.01" fill="#a51c2a"/>
<rect x="557.2" y="333.85" width="14.8" height="11.01" fill="#fdbd6c"/>
<rect x="571.6" y="333.85" width="14.700000000000001" height="11.01" fill="#f89a55"/>
<text x="589.5" y="343.6" font-size="12.5" font-style="italic">Herc6</text>
<rect x="480.3" y="344.56" width="14.9" height="11.01" fill="#4466ad"/>
<rect x="494.9" y="344.56" width="14.9" height="11.01" fill="#3e5ea8"/>
<rect x="509.5" y="344.56" width="14.9" height="11.01" fill="#313695"/>
<rect x="528.2" y="344.56" width="14.8" height="11.01" fill="#cae6f0"/>
<rect x="542.7" y="344.56" width="14.8" height="11.01" fill="#c7202b"/>
<rect x="557.2" y="344.56" width="14.8" height="11.01" fill="#a51c2a"/>
<rect x="571.6" y="344.56" width="14.700000000000001" height="11.01" fill="#a51c2a"/>
<text x="589.5" y="354.3" font-size="12.5" font-style="italic">Rsad2</text>
<rect x="480.3" y="355.27" width="14.9" height="11.01" fill="#3a4fa1"/>
<rect x="494.9" y="355.27" width="14.9" height="11.01" fill="#34409a"/>
<rect x="509.5" y="355.27" width="14.9" height="11.01" fill="#34409a"/>
<rect x="528.2" y="355.27" width="14.8" height="11.01" fill="#fde18a"/>
<rect x="542.7" y="355.27" width="14.8" height="11.01" fill="#a51c2a"/>
<rect x="557.2" y="355.27" width="14.8" height="11.01" fill="#f37e4b"/>
<rect x="571.6" y="355.27" width="14.700000000000001" height="11.01" fill="#e5482f"/>
<text x="589.5" y="365.0" font-size="12.5" font-style="italic">Irf7</text>
<rect x="480.3" y="365.98" width="14.9" height="11.01" fill="#4a78b6"/>
<rect x="494.9" y="365.98" width="14.9" height="11.01" fill="#313695"/>
<rect x="509.5" y="365.98" width="14.9" height="11.01" fill="#323a96"/>
<rect x="528.2" y="365.98" width="14.8" height="11.01" fill="#d9292a"/>
<rect x="542.7" y="365.98" width="14.8" height="11.01" fill="#f58149"/>
<rect x="557.2" y="365.98" width="14.8" height="11.01" fill="#f37747"/>
<rect x="571.6" y="365.98" width="14.700000000000001" height="11.01" fill="#a51c2a"/>
<text x="589.5" y="375.7" font-size="12.5" font-style="italic">Blnk</text>
<rect x="480.3" y="376.69" width="14.9" height="11.01" fill="#4a78b6"/>
<rect x="494.9" y="376.69" width="14.9" height="11.01" fill="#313695"/>
<rect x="509.5" y="376.69" width="14.9" height="11.01" fill="#333c98"/>
<rect x="528.2" y="376.69" width="14.8" height="11.01" fill="#e7f4f2"/>
<rect x="542.7" y="376.69" width="14.8" height="11.01" fill="#b01d2c"/>
<rect x="557.2" y="376.69" width="14.8" height="11.01" fill="#e85131"/>
<rect x="571.6" y="376.69" width="14.700000000000001" height="11.01" fill="#a51c2a"/>
<text x="589.5" y="386.4" font-size="12.5" font-style="italic">Usp18</text>
<rect x="480.3" y="387.40" width="14.9" height="11.01" fill="#4a78b6"/>
<rect x="494.9" y="387.40" width="14.9" height="11.01" fill="#3e5ca8"/>
<rect x="509.5" y="387.40" width="14.9" height="11.01" fill="#3c58a6"/>
<rect x="528.2" y="387.40" width="14.8" height="11.01" fill="#d0e8f0"/>
<rect x="542.7" y="387.40" width="14.8" height="11.01" fill="#a51c2a"/>
<rect x="557.2" y="387.40" width="14.8" height="11.01" fill="#fdb566"/>
<rect x="571.6" y="387.40" width="14.700000000000001" height="11.01" fill="#e95530"/>
<text x="589.5" y="397.2" font-size="12.5" font-style="italic">Isg15</text>
<rect x="480.3" y="398.11" width="14.9" height="11.01" fill="#4673b3"/>
<rect x="494.9" y="398.11" width="14.9" height="11.01" fill="#3c57a6"/>
<rect x="509.5" y="398.11" width="14.9" height="11.01" fill="#4a6eb1"/>
<rect x="528.2" y="398.11" width="14.8" height="11.01" fill="#b3dceb"/>
<rect x="542.7" y="398.11" width="14.8" height="11.01" fill="#a51c2a"/>
<rect x="557.2" y="398.11" width="14.8" height="11.01" fill="#e5452f"/>
<rect x="571.6" y="398.11" width="14.700000000000001" height="11.01" fill="#f89a55"/>
<text x="589.5" y="407.9" font-size="12.5" font-style="italic">Ifit1</text>
<rect x="480.3" y="408.82" width="14.9" height="11.01" fill="#4673b3"/>
<rect x="494.9" y="408.82" width="14.9" height="11.01" fill="#3e5ba7"/>
<rect x="509.5" y="408.82" width="14.9" height="11.01" fill="#3e5ca8"/>
<rect x="528.2" y="408.82" width="14.8" height="11.01" fill="#e8f4ee"/>
<rect x="542.7" y="408.82" width="14.8" height="11.01" fill="#a51c2a"/>
<rect x="557.2" y="408.82" width="14.8" height="11.01" fill="#f58b4e"/>
<rect x="571.6" y="408.82" width="14.700000000000001" height="11.01" fill="#f7924f"/>
<text x="589.5" y="418.6" font-size="12.5" font-style="italic">Gbp3</text>
<rect x="480.3" y="419.53" width="14.9" height="11.01" fill="#4165ac"/>
<rect x="494.9" y="419.53" width="14.9" height="11.01" fill="#313e99"/>
<rect x="509.5" y="419.53" width="14.9" height="11.01" fill="#3a50a2"/>
<rect x="528.2" y="419.53" width="14.8" height="11.01" fill="#f4f7cf"/>
<rect x="542.7" y="419.53" width="14.8" height="11.01" fill="#a51c2a"/>
<rect x="557.2" y="419.53" width="14.8" height="11.01" fill="#e34a30"/>
<rect x="571.6" y="419.53" width="14.700000000000001" height="11.01" fill="#fbaa5e"/>
<text x="589.5" y="429.3" font-size="12.5" font-style="italic">Ifit3</text>
<rect x="480.3" y="435.00" width="14.9" height="11.01" fill="#3a4ea1"/>
<rect x="494.9" y="435.00" width="14.9" height="11.01" fill="#323895"/>
<rect x="509.5" y="435.00" width="14.9" height="11.01" fill="#3e5aa7"/>
<rect x="528.2" y="435.00" width="14.8" height="11.01" fill="#f68a50"/>
<rect x="542.7" y="435.00" width="14.8" height="11.01" fill="#eb5a36"/>
<rect x="557.2" y="435.00" width="14.8" height="11.01" fill="#a51c2a"/>
<rect x="571.6" y="435.00" width="14.700000000000001" height="11.01" fill="#c62028"/>
<text x="589.5" y="444.8" font-size="12.5" font-style="italic">Insig1</text>
<rect x="480.3" y="445.71" width="14.9" height="11.01" fill="#323895"/>
<rect x="494.9" y="445.71" width="14.9" height="11.01" fill="#313695"/>
<rect x="509.5" y="445.71" width="14.9" height="11.01" fill="#4a79b6"/>
<rect x="528.2" y="445.71" width="14.8" height="11.01" fill="#f8914e"/>
<rect x="542.7" y="445.71" width="14.8" height="11.01" fill="#a51c2a"/>
<rect x="557.2" y="445.71" width="14.8" height="11.01" fill="#fed88a"/>
<rect x="571.6" y="445.71" width="14.700000000000001" height="11.01" fill="#f68b51"/>
<text x="589.5" y="455.5" font-size="12.5" font-style="italic">Sqle</text>
<rect x="480.3" y="456.42" width="14.9" height="11.01" fill="#313695"/>
<rect x="494.9" y="456.42" width="14.9" height="11.01" fill="#323895"/>
<rect x="509.5" y="456.42" width="14.9" height="11.01" fill="#3a44a0"/>
<rect x="528.2" y="456.42" width="14.8" height="11.01" fill="#a51c2a"/>
<rect x="542.7" y="456.42" width="14.8" height="11.01" fill="#f68f50"/>
<rect x="557.2" y="456.42" width="14.8" height="11.01" fill="#a51c2a"/>
<rect x="571.6" y="456.42" width="14.700000000000001" height="11.01" fill="#fee08c"/>
<text x="589.5" y="466.2" font-size="12.5" font-style="italic">Hmgcr</text>
<rect x="480.3" y="467.13" width="14.9" height="11.01" fill="#313695"/>
<rect x="494.9" y="467.13" width="14.9" height="11.01" fill="#4a79b6"/>
<rect x="509.5" y="467.13" width="14.9" height="11.01" fill="#3a49a0"/>
<rect x="528.2" y="467.13" width="14.8" height="11.01" fill="#f89c56"/>
<rect x="542.7" y="467.13" width="14.8" height="11.01" fill="#a51c2a"/>
<rect x="557.2" y="467.13" width="14.8" height="11.01" fill="#e4462e"/>
<rect x="571.6" y="467.13" width="14.700000000000001" height="11.01" fill="#ec5f3b"/>
<text x="589.5" y="476.9" font-size="12.5" font-style="italic">Mvd</text>
<rect x="480.3" y="477.84" width="14.9" height="11.01" fill="#3a4fa2"/>
<rect x="494.9" y="477.84" width="14.9" height="11.01" fill="#323895"/>
<rect x="509.5" y="477.84" width="14.9" height="11.01" fill="#3d58a6"/>
<rect x="528.2" y="477.84" width="14.8" height="11.01" fill="#fdc270"/>
<rect x="542.7" y="477.84" width="14.8" height="11.01" fill="#a51c2a"/>
<rect x="557.2" y="477.84" width="14.8" height="11.01" fill="#a51c2a"/>
<rect x="571.6" y="477.84" width="14.700000000000001" height="11.01" fill="#fbae60"/>
<text x="589.5" y="487.6" font-size="12.5" font-style="italic">Acsl3</text>
<rect x="480.3" y="488.55" width="14.9" height="11.01" fill="#3b51a2"/>
<rect x="494.9" y="488.55" width="14.9" height="11.01" fill="#323895"/>
<rect x="509.5" y="488.55" width="14.9" height="11.01" fill="#3b52a3"/>
<rect x="528.2" y="488.55" width="14.8" height="11.01" fill="#e0432d"/>
<rect x="542.7" y="488.55" width="14.8" height="11.01" fill="#a51c2a"/>
<rect x="557.2" y="488.55" width="14.8" height="11.01" fill="#f68a50"/>
<rect x="571.6" y="488.55" width="14.700000000000001" height="11.01" fill="#fbae60"/>
<text x="589.5" y="498.3" font-size="12.5" font-style="italic">Msmo1</text>
<rect x="480.3" y="499.26" width="14.9" height="11.01" fill="#3a4da1"/>
<rect x="494.9" y="499.26" width="14.9" height="11.01" fill="#333a97"/>
<rect x="509.5" y="499.26" width="14.9" height="11.01" fill="#343e99"/>
<rect x="528.2" y="499.26" width="14.8" height="11.01" fill="#b21d2b"/>
<rect x="542.7" y="499.26" width="14.8" height="11.01" fill="#a51c2a"/>
<rect x="557.2" y="499.26" width="14.8" height="11.01" fill="#fdb565"/>
<rect x="571.6" y="499.26" width="14.700000000000001" height="11.01" fill="#eb5c37"/>
<text x="589.5" y="509.0" font-size="12.5" font-style="italic">Fdft1</text>
<rect x="480.3" y="509.97" width="14.9" height="11.01" fill="#4164ac"/>
<rect x="494.9" y="509.97" width="14.9" height="11.01" fill="#343f99"/>
<rect x="509.5" y="509.97" width="14.9" height="11.01" fill="#3a4ea1"/>
<rect x="528.2" y="509.97" width="14.8" height="11.01" fill="#f57e4a"/>
<rect x="542.7" y="509.97" width="14.8" height="11.01" fill="#a51c2a"/>
<rect x="557.2" y="509.97" width="14.8" height="11.01" fill="#dc3129"/>
<rect x="571.6" y="509.97" width="14.700000000000001" height="11.01" fill="#fed98b"/>
<text x="589.5" y="519.7" font-size="12.5" font-style="italic">Lss</text>
<rect x="480.3" y="524.90" width="14.9" height="11.01" fill="#dc3a2a"/>
<rect x="494.9" y="524.90" width="14.9" height="11.01" fill="#a51c2a"/>
<rect x="509.5" y="524.90" width="14.9" height="11.01" fill="#de3c2a"/>
<rect x="528.2" y="524.90" width="14.8" height="11.01" fill="#b4dceb"/>
<rect x="542.7" y="524.90" width="14.8" height="11.01" fill="#313695"/>
<rect x="557.2" y="524.90" width="14.8" height="11.01" fill="#4a82bd"/>
<rect x="571.6" y="524.90" width="14.700000000000001" height="11.01" fill="#5993c5"/>
<text x="589.5" y="534.7" font-size="12.5" font-style="italic">Gpihbp1</text>
<rect x="480.3" y="535.61" width="14.9" height="11.01" fill="#f7f7cf"/>
<rect x="494.9" y="535.61" width="14.9" height="11.01" fill="#a51c2a"/>
<rect x="509.5" y="535.61" width="14.9" height="11.01" fill="#a51c2a"/>
<rect x="528.2" y="535.61" width="14.8" height="11.01" fill="#a9d6e8"/>
<rect x="542.7" y="535.61" width="14.8" height="11.01" fill="#3b52a3"/>
<rect x="557.2" y="535.61" width="14.8" height="11.01" fill="#333a97"/>
<rect x="571.6" y="535.61" width="14.700000000000001" height="11.01" fill="#8dc2df"/>
<text x="589.5" y="545.4" font-size="12.5" font-style="italic">Apoa4</text>
<rect x="480.3" y="546.32" width="14.9" height="11.01" fill="#fdd988"/>
<rect x="494.9" y="546.32" width="14.9" height="11.01" fill="#a51c2a"/>
<rect x="509.5" y="546.32" width="14.9" height="11.01" fill="#a51c2a"/>
<rect x="528.2" y="546.32" width="14.8" height="11.01" fill="#4268ad"/>
<rect x="542.7" y="546.32" width="14.8" height="11.01" fill="#fee89a"/>
<rect x="557.2" y="546.32" width="14.8" height="11.01" fill="#4570b2"/>
<rect x="571.6" y="546.32" width="14.700000000000001" height="11.01" fill="#313695"/>
<text x="589.5" y="556.1" font-size="12.5" font-style="italic">Angptl4</text>
<rect x="480.3" y="557.03" width="14.9" height="11.01" fill="#fbaa5e"/>
<rect x="494.9" y="557.03" width="14.9" height="11.01" fill="#ea5533"/>
<rect x="509.5" y="557.03" width="14.9" height="11.01" fill="#a51c2a"/>
<rect x="528.2" y="557.03" width="14.8" height="11.01" fill="#313695"/>
<rect x="542.7" y="557.03" width="14.8" height="11.01" fill="#5087c0"/>
<rect x="557.2" y="557.03" width="14.8" height="11.01" fill="#313695"/>
<rect x="571.6" y="557.03" width="14.700000000000001" height="11.01" fill="#fed988"/>
<text x="589.5" y="566.8" font-size="12.5" font-style="italic">Elovl3</text>
<rect x="480.3" y="567.74" width="14.9" height="11.01" fill="#a51c2a"/>
<rect x="494.9" y="567.74" width="14.9" height="11.01" fill="#a51c2a"/>
<rect x="509.5" y="567.74" width="14.9" height="11.01" fill="#fdc070"/>
<rect x="528.2" y="567.74" width="14.8" height="11.01" fill="#313695"/>
<rect x="542.7" y="567.74" width="14.8" height="11.01" fill="#5087c0"/>
<rect x="557.2" y="567.74" width="14.8" height="11.01" fill="#3b55a4"/>
<rect x="571.6" y="567.74" width="14.700000000000001" height="11.01" fill="#e8f4ec"/>
<text x="589.5" y="577.5" font-size="12.5" font-style="italic">Nr1d1</text>
<rect x="480.3" y="578.45" width="14.9" height="11.01" fill="#fde08b"/>
<rect x="494.9" y="578.45" width="14.9" height="11.01" fill="#a51c2a"/>
<rect x="509.5" y="578.45" width="14.9" height="11.01" fill="#a51c2a"/>
<rect x="528.2" y="578.45" width="14.8" height="11.01" fill="#5a98c8"/>
<rect x="542.7" y="578.45" width="14.8" height="11.01" fill="#4269ae"/>
<rect x="557.2" y="578.45" width="14.8" height="11.01" fill="#6aa6d0"/>
<rect x="571.6" y="578.45" width="14.700000000000001" height="11.01" fill="#4673b3"/>
<text x="589.5" y="588.2" font-size="12.5" font-style="italic">Fbxo31</text>
<rect x="480.3" y="589.16" width="14.9" height="11.01" fill="#aad8e8"/>
<rect x="494.9" y="589.16" width="14.9" height="11.01" fill="#a51c2a"/>
<rect x="509.5" y="589.16" width="14.9" height="11.01" fill="#a51c2a"/>
<rect x="528.2" y="589.16" width="14.8" height="11.01" fill="#b5ddeb"/>
<rect x="542.7" y="589.16" width="14.8" height="11.01" fill="#4266ad"/>
<rect x="557.2" y="589.16" width="14.8" height="11.01" fill="#5188c0"/>
<rect x="571.6" y="589.16" width="14.700000000000001" height="11.01" fill="#9acbe2"/>
<text x="589.5" y="598.9" font-size="12.5" font-style="italic">Zbtb16</text>
<rect x="480.3" y="599.87" width="14.9" height="11.01" fill="#fdc572"/>
<rect x="494.9" y="599.87" width="14.9" height="11.01" fill="#a51c2a"/>
<rect x="509.5" y="599.87" width="14.9" height="11.01" fill="#a51c2a"/>
<rect x="528.2" y="599.87" width="14.8" height="11.01" fill="#a6d4e7"/>
<rect x="542.7" y="599.87" width="14.8" height="11.01" fill="#3e5ba7"/>
<rect x="557.2" y="599.87" width="14.8" height="11.01" fill="#6aa6d0"/>
<rect x="571.6" y="599.87" width="14.700000000000001" height="11.01" fill="#333a97"/>
<text x="589.5" y="609.6" font-size="12.5" font-style="italic">Fbxl15</text>
<rect x="480.3" y="610.58" width="14.9" height="11.01" fill="#d8eef4"/>
<rect x="494.9" y="610.58" width="14.9" height="11.01" fill="#a51c2a"/>
<rect x="509.5" y="610.58" width="14.9" height="11.01" fill="#dc3a2a"/>
<rect x="528.2" y="610.58" width="14.8" height="11.01" fill="#b9def0"/>
<rect x="542.7" y="610.58" width="14.8" height="11.01" fill="#4268ad"/>
<rect x="557.2" y="610.58" width="14.8" height="11.01" fill="#74b0d5"/>
<rect x="571.6" y="610.58" width="14.700000000000001" height="11.01" fill="#4a82bd"/>
<text x="589.5" y="620.3" font-size="12.5" font-style="italic">Txnip</text>
<rect x="480.3" y="621.29" width="14.9" height="11.01" fill="#e8502f"/>
<rect x="494.9" y="621.29" width="14.9" height="11.01" fill="#d8312a"/>
<rect x="509.5" y="621.29" width="14.9" height="11.01" fill="#a51c2a"/>
<rect x="528.2" y="621.29" width="14.8" height="11.01" fill="#6aa6d0"/>
<rect x="542.7" y="621.29" width="14.8" height="11.01" fill="#79b3d7"/>
<rect x="557.2" y="621.29" width="14.8" height="11.01" fill="#4672b3"/>
<rect x="571.6" y="621.29" width="14.700000000000001" height="11.01" fill="#313695"/>
<text x="589.5" y="631.0" font-size="12.5" font-style="italic">G6pc</text>
<rect x="480.3" y="632.00" width="14.9" height="11.01" fill="#f68a50"/>
<rect x="494.9" y="632.00" width="14.9" height="11.01" fill="#a51c2a"/>
<rect x="509.5" y="632.00" width="14.9" height="11.01" fill="#a51c2a"/>
<rect x="528.2" y="632.00" width="14.8" height="11.01" fill="#5993c5"/>
<rect x="542.7" y="632.00" width="14.8" height="11.01" fill="#4268ad"/>
<rect x="557.2" y="632.00" width="14.8" height="11.01" fill="#6aa6d0"/>
<rect x="571.6" y="632.00" width="14.700000000000001" height="11.01" fill="#3b55a4"/>
<text x="589.5" y="641.8" font-size="12.5" font-style="italic">Fpgs</text>
<rect x="480.3" y="642.71" width="14.9" height="11.01" fill="#f68a50"/>
<rect x="494.9" y="642.71" width="14.9" height="11.01" fill="#a51c2a"/>
<rect x="509.5" y="642.71" width="14.9" height="11.01" fill="#a51c2a"/>
<rect x="528.2" y="642.71" width="14.8" height="11.01" fill="#5e9ac9"/>
<rect x="542.7" y="642.71" width="14.8" height="11.01" fill="#4268ad"/>
<rect x="557.2" y="642.71" width="14.8" height="11.01" fill="#5e9ac9"/>
<rect x="571.6" y="642.71" width="14.700000000000001" height="11.01" fill="#3b55a4"/>
<text x="589.5" y="652.5" font-size="12.5" font-style="italic">Smpd2</text>
<rect x="480.3" y="653.42" width="14.9" height="11.01" fill="#f68f52"/>
<rect x="494.9" y="653.42" width="14.9" height="11.01" fill="#a51c2a"/>
<rect x="509.5" y="653.42" width="14.9" height="11.01" fill="#a51c2a"/>
<rect x="528.2" y="653.42" width="14.8" height="11.01" fill="#6aa6d0"/>
<rect x="542.7" y="653.42" width="14.8" height="11.01" fill="#5a94c6"/>
<rect x="557.2" y="653.42" width="14.8" height="11.01" fill="#3d5aa6"/>
<rect x="571.6" y="653.42" width="14.700000000000001" height="11.01" fill="#3e5ba7"/>
<text x="589.5" y="663.2" font-size="12.5" font-style="italic">Slc39a5</text>
<rect x="480.3" y="664.13" width="14.9" height="11.01" fill="#a51c2a"/>
<rect x="494.9" y="664.13" width="14.9" height="11.01" fill="#a51c2a"/>
<rect x="509.5" y="664.13" width="14.9" height="11.01" fill="#a51c2a"/>
<rect x="528.2" y="664.13" width="14.8" height="11.01" fill="#4a7cb8"/>
<rect x="542.7" y="664.13" width="14.8" height="11.01" fill="#4269ae"/>
<rect x="557.2" y="664.13" width="14.8" height="11.01" fill="#6aa6d0"/>
<rect x="571.6" y="664.13" width="14.700000000000001" height="11.01" fill="#3b52a3"/>
<text x="589.5" y="673.9" font-size="12.5" font-style="italic">Slc25a22</text>
<text font-size="12.5" transform="translate(491.1,688.3) rotate(-90)">1</text>
<text font-size="12.5" transform="translate(505.4,688.3) rotate(-90)">2</text>
<text font-size="12.5" transform="translate(520.1,688.3) rotate(-90)">3</text>
<text font-size="12.5" transform="translate(538.6,688.3) rotate(-90)">1</text>
<text font-size="12.5" transform="translate(552.4,688.3) rotate(-90)">2</text>
<text font-size="12.5" transform="translate(567.1,688.3) rotate(-90)">3</text>
<text font-size="12.5" transform="translate(581.4,688.3) rotate(-90)">4</text>
<defs><linearGradient id="gD" x1="0" y1="0" x2="0" y2="1"><stop offset="0" stop-color="#a50026"/><stop offset="0.1" stop-color="#d73027"/><stop offset="0.2" stop-color="#f46d43"/><stop offset="0.3" stop-color="#fdae61"/><stop offset="0.4" stop-color="#fee090"/><stop offset="0.5" stop-color="#ffffbf"/><stop offset="0.6" stop-color="#e0f3f8"/><stop offset="0.7" stop-color="#abd9e9"/><stop offset="0.8" stop-color="#74add1"/><stop offset="0.9" stop-color="#4575b4"/><stop offset="1" stop-color="#313695"/></linearGradient></defs>
<rect x="647.1" y="442.1" width="11" height="154.5" fill="url(#gD)"/>
<text x="662.6" y="448.5" font-size="12.5">1</text>
<text x="662.6" y="487.4" font-size="12.5">0.5</text>
<text x="662.6" y="525.1" font-size="12.5">0</text>
<text x="659.6" y="564.0" font-size="12.5">- 0.5</text>
<text x="662.6" y="601.7" font-size="12.5">-1</text>
<text font-size="12.5" font-weight="bold" transform="translate(656.3,430) rotate(-90)">Expression</text>
<text x="-0.5" y="701" font-size="15.5" font-weight="bold">e</text>
<circle cx="99.8" cy="728.9" r="6.7" fill="#e4706a"/>
<circle cx="158.8" cy="719.2" r="6.6" fill="#e4706a"/>
<circle cx="134" cy="743.3" r="6.6" fill="#e4706a"/>
<circle cx="71.5" cy="761.9" r="6.7" fill="#7b9fd4"/>
<circle cx="108" cy="771.8" r="6.7" fill="#7b9fd4"/>
<circle cx="54.6" cy="797.4" r="6.7" fill="#7b9fd4"/>
<circle cx="90.6" cy="808.6" r="6.7" fill="#7b9fd4"/>
<circle cx="62.8" cy="835.1" r="6.6" fill="#e4706a"/>
<circle cx="158.3" cy="817.9" r="15.4" fill="#cbcbcb"/>
<circle cx="238.9" cy="714.7" r="6.8" fill="#e4706a"/>
<circle cx="303" cy="703.3" r="6.6" fill="#e4706a"/>
<circle cx="285.8" cy="732.9" r="6.6" fill="#cbcbcb"/>
<circle cx="319.6" cy="729.6" r="6.6" fill="#cbcbcb"/>
<circle cx="355.6" cy="736.3" r="6.6" fill="#cbcbcb"/>
<circle cx="189" cy="761.9" r="7.4" fill="#e4706a"/>
<circle cx="267.4" cy="757.4" r="6.6" fill="#cbcbcb"/>
<circle cx="240.1" cy="767.4" r="7" fill="#e4706a"/>
<circle cx="303" cy="763.5" r="6.6" fill="#e4706a"/>
<circle cx="335" cy="756.9" r="6.6" fill="#cbcbcb"/>
<circle cx="371.8" cy="762.7" r="6.6" fill="#cbcbcb"/>
<circle cx="411.3" cy="769.4" r="6.6" fill="#cbcbcb"/>
<circle cx="214" cy="784.2" r="6.6" fill="#7b9fd4"/>
<circle cx="353.1" cy="786.7" r="6.6" fill="#cbcbcb"/>
<circle cx="294.7" cy="798.1" r="16.0" fill="#cbcbcb"/>
<circle cx="379.2" cy="797.1" r="6.6" fill="#cbcbcb"/>
<circle cx="483.9" cy="796.2" r="6.6" fill="#e4706a"/>
<circle cx="253" cy="815.3" r="8" fill="#cbcbcb"/>
<circle cx="402.8" cy="812.2" r="6.6" fill="#cbcbcb"/>
<circle cx="357.4" cy="820.2" r="6.6" fill="#cbcbcb"/>
<circle cx="190.6" cy="827" r="6.7" fill="#e4706a"/>
<circle cx="312.2" cy="828.2" r="18.2" fill="#e4706a" stroke="#3fae6b" stroke-width="1.6"/>
<circle cx="217.8" cy="842.4" r="11.1" fill="#cbcbcb"/>
<circle cx="383" cy="842.4" r="6.6" fill="#cbcbcb"/>
<circle cx="116.2" cy="850.6" r="6.7" fill="#e4706a"/>
<circle cx="258.7" cy="852.8" r="9" fill="#7b9fd4"/>
<circle cx="195.9" cy="856" r="8.5" fill="#e4706a"/>
<circle cx="357.1" cy="857.2" r="6.6" fill="#cbcbcb"/>
<circle cx="70.7" cy="868" r="6.6" fill="#e4706a"/>
<circle cx="231.4" cy="868.4" r="6.8" fill="#e4706a"/>
<circle cx="149.5" cy="875.8" r="6.7" fill="#e4706a"/>
<circle cx="294.7" cy="878.8" r="6.6" fill="#cbcbcb"/>
<circle cx="336" cy="877.1" r="6.6" fill="#cbcbcb"/>
<circle cx="433.5" cy="887.5" r="6.6" fill="#7b9fd4"/>
<circle cx="103.7" cy="888.8" r="6.8" fill="#7b9fd4"/>
<circle cx="173.9" cy="904" r="8.7" fill="#e4706a"/>
<circle cx="233.9" cy="904.4" r="10.6" fill="#cbcbcb"/>
<circle cx="365.8" cy="904.4" r="6.6" fill="#cbcbcb"/>
<circle cx="401.9" cy="904" r="6.6" fill="#cbcbcb"/>
<circle cx="126.1" cy="917.4" r="6.8" fill="#e4706a"/>
<circle cx="201.4" cy="929.2" r="7" fill="#7b9fd4"/>
<circle cx="337.2" cy="931.7" r="6.6" fill="#cbcbcb"/>
<circle cx="299.7" cy="934.5" r="7" fill="#cbcbcb"/>
<circle cx="467" cy="949.1" r="6.5" fill="#e4706a"/>
<circle cx="235.6" cy="962" r="7" fill="#7b9fd4"/>
<circle cx="168.1" cy="968.3" r="7" fill="#e4706a"/>
<circle cx="333" cy="978.8" r="6.8" fill="#e4706a"/>
<circle cx="219.5" cy="985.8" r="7" fill="#7b9fd4"/>
<line x1="103.5" y1="734.5" x2="148.9" y2="803.5" stroke="#d9c2e4" stroke-width="0.8"/>
<line x1="136.0" y1="749.6" x2="153.0" y2="801.5" stroke="#d9c2e4" stroke-width="0.8"/>
<line x1="77.1" y1="765.5" x2="143.8" y2="808.6" stroke="#d9c2e4" stroke-width="0.8"/>
<line x1="112.9" y1="776.3" x2="145.6" y2="806.3" stroke="#d9c2e4" stroke-width="0.8"/>
<line x1="61.2" y1="798.7" x2="141.4" y2="814.6" stroke="#d9c2e4" stroke-width="0.8"/>
<line x1="97.2" y1="809.5" x2="141.3" y2="815.6" stroke="#d9c2e4" stroke-width="0.8"/>
<line x1="69.3" y1="833.9" x2="141.4" y2="820.9" stroke="#d9c2e4" stroke-width="0.8"/>
<line x1="185.4" y1="768.4" x2="166.6" y2="802.8" stroke="#d9c2e4" stroke-width="0.8"/>
<line x1="107.8" y1="883.4" x2="147.8" y2="831.5" stroke="#d9c2e4" stroke-width="0.8"/>
<line x1="150.5" y1="869.2" x2="155.7" y2="834.9" stroke="#d9c2e4" stroke-width="0.8"/>
<line x1="172.3" y1="895.4" x2="161.4" y2="834.8" stroke="#d9c2e4" stroke-width="0.8"/>
<line x1="128.2" y1="910.9" x2="153.0" y2="834.3" stroke="#d9c2e4" stroke-width="0.8"/>
<line x1="189.9" y1="850.0" x2="170.4" y2="830.1" stroke="#d9c2e4" stroke-width="0.8"/>
<line x1="184.2" y1="825.2" x2="174.9" y2="822.6" stroke="#d9c2e4" stroke-width="0.8"/>
<line x1="207.5" y1="838.2" x2="174.2" y2="824.4" stroke="#d9c2e4" stroke-width="0.8"/>
<line x1="278.9" y1="800.4" x2="175.3" y2="815.4" stroke="#d9c2e4" stroke-width="0.8"/>
<line x1="294.0" y1="827.0" x2="175.5" y2="819.0" stroke="#d9c2e4" stroke-width="0.8"/>
<line x1="245.0" y1="815.5" x2="175.5" y2="817.4" stroke="#d9c2e4" stroke-width="0.8"/>
<line x1="158.4" y1="802.5" x2="158.8" y2="727.6" stroke="#d9c2e4" stroke-width="0.8"/>
<line x1="146.1" y1="827.3" x2="122.9" y2="845.4" stroke="#d9c2e4" stroke-width="0.8"/>
<line x1="144.9" y1="825.5" x2="78.0" y2="863.8" stroke="#d9c2e4" stroke-width="0.8"/>
<line x1="194.4" y1="756.8" x2="232.7" y2="720.6" stroke="#d9c2e4" stroke-width="0.8"/>
<line x1="191.5" y1="768.9" x2="213.5" y2="830.3" stroke="#d9c2e4" stroke-width="0.8"/>
<line x1="110.3" y1="890.2" x2="163.6" y2="901.8" stroke="#d9c2e4" stroke-width="0.8"/>
<line x1="187.4" y1="855.4" x2="122.9" y2="851.1" stroke="#d9c2e4" stroke-width="0.8"/>
<line x1="188.1" y1="859.3" x2="155.7" y2="873.2" stroke="#d9c2e4" stroke-width="0.8"/>
<line x1="192.4" y1="863.7" x2="178.3" y2="894.5" stroke="#d9c2e4" stroke-width="0.8"/>
<line x1="201.1" y1="862.7" x2="226.2" y2="894.6" stroke="#d9c2e4" stroke-width="0.8"/>
<line x1="211.4" y1="851.4" x2="180.0" y2="895.4" stroke="#d9c2e4" stroke-width="0.8"/>
<line x1="223.3" y1="904.3" x2="184.4" y2="904.1" stroke="#d9c2e4" stroke-width="0.8"/>
<line x1="238.5" y1="894.8" x2="254.0" y2="862.5" stroke="#d9c2e4" stroke-width="0.8"/>
<line x1="232.1" y1="914.8" x2="221.0" y2="977.1" stroke="#d9c2e4" stroke-width="0.8"/>
<line x1="241.5" y1="897.0" x2="297.9" y2="842.1" stroke="#d9c2e4" stroke-width="0.8"/>
<line x1="278.9" y1="795.4" x2="222.3" y2="785.6" stroke="#d9c2e4" stroke-width="0.8"/>
<line x1="280.8" y1="790.3" x2="247.8" y2="771.7" stroke="#f9e6bb" stroke-width="0.8"/>
<line x1="242.7" y1="720.4" x2="284.8" y2="783.3" stroke="#d9c2e4" stroke-width="0.8"/>
<line x1="246.7" y1="820.2" x2="228.0" y2="834.5" stroke="#d9c2e4" stroke-width="0.8"/>
<line x1="251.3" y1="823.1" x2="236.5" y2="892.3" stroke="#d9c2e4" stroke-width="0.8"/>
<line x1="227.4" y1="836.9" x2="279.3" y2="807.0" stroke="#d9c2e4" stroke-width="0.8"/>
<line x1="228.6" y1="845.1" x2="248.2" y2="850.1" stroke="#d9c2e4" stroke-width="0.8"/>
<line x1="222.9" y1="852.2" x2="227.4" y2="860.8" stroke="#d9c2e4" stroke-width="0.8"/>
<line x1="220.6" y1="853.1" x2="230.8" y2="892.4" stroke="#d9c2e4" stroke-width="0.8"/>
<line x1="250.9" y1="857.3" x2="238.9" y2="864.1" stroke="#d9c2e4" stroke-width="0.8"/>
<line x1="207.0" y1="925.0" x2="224.0" y2="911.9" stroke="#d9c2e4" stroke-width="0.8"/>
<line x1="206.5" y1="934.0" x2="229.2" y2="955.9" stroke="#d9c2e4" stroke-width="0.8"/>
<line x1="180.3" y1="909.9" x2="196.2" y2="924.5" stroke="#d9c2e4" stroke-width="0.8"/>
<line x1="215.7" y1="853.3" x2="203.0" y2="920.6" stroke="#d9c2e4" stroke-width="0.8"/>
<line x1="163.6" y1="962.9" x2="131.6" y2="924.0" stroke="#d9c2e4" stroke-width="0.8"/>
<line x1="172.6" y1="963.0" x2="196.9" y2="934.5" stroke="#d9c2e4" stroke-width="0.8"/>
<line x1="242.0" y1="959.2" x2="291.6" y2="938.0" stroke="#d9c2e4" stroke-width="0.8"/>
<line x1="328.9" y1="973.4" x2="305.0" y2="941.5" stroke="#d9c2e4" stroke-width="0.8"/>
<line x1="333.6" y1="972.0" x2="336.5" y2="940.1" stroke="#d9c2e4" stroke-width="0.8"/>
<line x1="300.5" y1="927.5" x2="309.9" y2="848.1" stroke="#d9c2e4" stroke-width="0.8"/>
<line x1="335.7" y1="925.3" x2="316.9" y2="847.6" stroke="#d9c2e4" stroke-width="0.8"/>
<line x1="362.0" y1="899.0" x2="323.7" y2="844.6" stroke="#d9c2e4" stroke-width="0.8"/>
<line x1="327.9" y1="818.9" x2="404.1" y2="773.7" stroke="#d9c2e4" stroke-width="0.8"/>
<line x1="330.1" y1="824.9" x2="475.6" y2="797.7" stroke="#d9c2e4" stroke-width="0.8"/>
<line x1="294.0" y1="828.0" x2="199.1" y2="827.1" stroke="#d9c2e4" stroke-width="0.8"/>
<line x1="294.5" y1="832.4" x2="205.9" y2="853.6" stroke="#d9c2e4" stroke-width="0.8"/>
<line x1="307.3" y1="810.7" x2="288.0" y2="741.0" stroke="#f9e6bb" stroke-width="0.8"/>
<line x1="313.6" y1="810.1" x2="319.0" y2="738.0" stroke="#f9e6bb" stroke-width="0.8"/>
<line x1="320.0" y1="811.7" x2="352.0" y2="743.9" stroke="#f9e6bb" stroke-width="0.8"/>
<line x1="302.5" y1="812.8" x2="271.9" y2="764.5" stroke="#f9e6bb" stroke-width="0.8"/>
<line x1="317.7" y1="810.9" x2="332.4" y2="764.9" stroke="#f9e6bb" stroke-width="0.8"/>
<line x1="324.4" y1="814.7" x2="366.1" y2="768.9" stroke="#f9e6bb" stroke-width="0.8"/>
<line x1="325.0" y1="815.2" x2="347.2" y2="792.7" stroke="#f9e6bb" stroke-width="0.8"/>
<line x1="328.7" y1="820.5" x2="371.6" y2="800.6" stroke="#f9e6bb" stroke-width="0.8"/>
<line x1="330.1" y1="825.0" x2="394.5" y2="813.7" stroke="#f9e6bb" stroke-width="0.8"/>
<line x1="330.1" y1="825.0" x2="349.1" y2="821.7" stroke="#f9e6bb" stroke-width="0.8"/>
<line x1="330.0" y1="831.8" x2="374.8" y2="840.7" stroke="#f9e6bb" stroke-width="0.8"/>
<line x1="327.5" y1="838.1" x2="350.0" y2="852.6" stroke="#f9e6bb" stroke-width="0.8"/>
<line x1="306.3" y1="845.4" x2="297.4" y2="870.9" stroke="#f9e6bb" stroke-width="0.8"/>
<line x1="320.2" y1="844.6" x2="332.3" y2="869.5" stroke="#f9e6bb" stroke-width="0.8"/>
<line x1="309.6" y1="810.2" x2="304.2" y2="771.8" stroke="#f9e6bb" stroke-width="0.8"/>
<line x1="292.5" y1="782.2" x2="286.9" y2="741.2" stroke="#f9e6bb" stroke-width="0.8"/>
<line x1="300.2" y1="783.1" x2="316.7" y2="737.5" stroke="#f9e6bb" stroke-width="0.8"/>
<line x1="285.8" y1="784.8" x2="272.1" y2="764.4" stroke="#f9e6bb" stroke-width="0.8"/>
<line x1="305.9" y1="786.7" x2="329.1" y2="762.9" stroke="#f9e6bb" stroke-width="0.8"/>
<line x1="305.9" y1="786.7" x2="349.7" y2="742.3" stroke="#f9e6bb" stroke-width="0.8"/>
<line x1="310.4" y1="795.0" x2="344.9" y2="788.3" stroke="#f9e6bb" stroke-width="0.8"/>
<line x1="310.7" y1="797.9" x2="370.8" y2="797.2" stroke="#f9e6bb" stroke-width="0.8"/>
<line x1="309.2" y1="791.4" x2="364.2" y2="766.2" stroke="#f9e6bb" stroke-width="0.8"/>
<line x1="309.8" y1="803.4" x2="349.5" y2="817.4" stroke="#f9e6bb" stroke-width="0.8"/>
<line x1="303.5" y1="709.9" x2="310.7" y2="808.3" stroke="#f9e6bb" stroke-width="0.8"/>
<line x1="302.4" y1="709.9" x2="296.3" y2="780.4" stroke="#f9e6bb" stroke-width="0.8"/>
<line x1="303.9" y1="770.0" x2="309.4" y2="808.4" stroke="#f9e6bb" stroke-width="0.8"/>
<line x1="254.2" y1="823.2" x2="257.1" y2="842.1" stroke="#f9e6bb" stroke-width="0.8"/>
<line x1="250.9" y1="807.6" x2="242.4" y2="775.9" stroke="#f9e6bb" stroke-width="0.8"/>
<line x1="249.7" y1="853.3" x2="206.2" y2="855.5" stroke="#f9e6bb" stroke-width="0.8"/>
<line x1="426.9" y1="886.8" x2="344.4" y2="878.0" stroke="#f9e6bb" stroke-width="0.8"/>
<line x1="326.5" y1="839.4" x2="460.5" y2="944.0" stroke="#a9dccf" stroke-width="0.8"/>
<line x1="302.7" y1="811.9" x2="302.1" y2="810.9" stroke="#d9c2e4" stroke-width="0.8"/>
<path d="M148.9,803.5 L143.1,798.7 L146.7,796.3 Z" fill="#a9a9a9"/>
<path d="M153.0,801.5 L148.7,795.4 L152.8,794.0 Z" fill="#a9a9a9"/>
<path d="M143.8,808.6 L136.6,806.5 L139.0,802.8 Z" fill="#a9a9a9"/>
<path d="M145.6,806.3 L138.8,803.0 L141.8,799.8 Z" fill="#a9a9a9"/>
<path d="M141.4,814.6 L133.9,815.3 L134.8,811.0 Z" fill="#a9a9a9"/>
<path d="M141.3,815.6 L133.8,816.8 L134.4,812.4 Z" fill="#a9a9a9"/>
<path d="M141.4,820.9 L134.7,824.4 L133.9,820.1 Z" fill="#a9a9a9"/>
<path d="M166.6,802.8 L168.1,795.4 L172.0,797.6 Z" fill="#a9a9a9"/>
<path d="M147.8,831.5 L145.2,838.6 L141.7,835.9 Z" fill="#a9a9a9"/>
<path d="M155.7,834.9 L156.8,842.4 L152.5,841.7 Z" fill="#a9a9a9"/>
<path d="M161.4,834.8 L164.8,841.5 L160.5,842.3 Z" fill="#a9a9a9"/>
<path d="M153.0,834.3 L152.9,841.8 L148.7,840.4 Z" fill="#a9a9a9"/>
<path d="M170.4,830.1 L177.0,833.7 L173.9,836.8 Z" fill="#a9a9a9"/>
<path d="M174.9,822.6 L182.4,822.4 L181.2,826.6 Z" fill="#a9a9a9"/>
<path d="M174.2,824.4 L181.7,825.2 L180.0,829.2 Z" fill="#a9a9a9"/>
<path d="M175.3,815.4 L182.1,812.2 L182.8,816.6 Z" fill="#a9a9a9"/>
<path d="M175.5,819.0 L182.8,817.3 L182.5,821.7 Z" fill="#a9a9a9"/>
<path d="M175.5,817.4 L182.6,815.0 L182.8,819.4 Z" fill="#a9a9a9"/>
<path d="M158.8,727.6 L160.9,734.8 L156.5,734.8 Z" fill="#a9a9a9"/>
<path d="M122.9,845.4 L127.2,839.2 L129.9,842.7 Z" fill="#a9a9a9"/>
<path d="M78.0,863.8 L83.1,858.3 L85.3,862.2 Z" fill="#a9a9a9"/>
<path d="M232.7,720.6 L228.9,727.2 L225.9,724.0 Z" fill="#a9a9a9"/>
<path d="M213.5,830.3 L209.0,824.2 L213.1,822.7 Z" fill="#a9a9a9"/>
<path d="M163.6,901.8 L156.1,902.4 L157.1,898.1 Z" fill="#a9a9a9"/>
<path d="M178.3,894.5 L179.3,887.0 L183.3,888.8 Z" fill="#a9a9a9"/>
<path d="M226.2,894.6 L220.1,890.3 L223.5,887.6 Z" fill="#a9a9a9"/>
<path d="M180.0,895.4 L182.4,888.3 L186.0,890.9 Z" fill="#a9a9a9"/>
<path d="M184.4,904.1 L191.6,901.9 L191.6,906.3 Z" fill="#a9a9a9"/>
<path d="M254.0,862.5 L252.9,870.0 L248.9,868.1 Z" fill="#a9a9a9"/>
<path d="M221.0,977.1 L220.1,969.7 L224.5,970.4 Z" fill="#a9a9a9"/>
<path d="M297.9,842.1 L294.2,848.7 L291.2,845.6 Z" fill="#a9a9a9"/>
<path d="M222.3,785.6 L229.7,784.7 L229.0,789.0 Z" fill="#a9a9a9"/>
<path d="M247.8,771.7 L255.1,773.3 L253.0,777.2 Z" fill="#a9a9a9"/>
<path d="M284.8,783.3 L279.0,778.5 L282.6,776.1 Z" fill="#a9a9a9"/>
<path d="M228.0,834.5 L232.4,828.4 L235.1,831.9 Z" fill="#a9a9a9"/>
<path d="M236.5,892.3 L235.9,884.8 L240.2,885.7 Z" fill="#a9a9a9"/>
<path d="M279.3,807.0 L274.1,812.5 L271.9,808.7 Z" fill="#a9a9a9"/>
<path d="M248.2,850.1 L240.7,850.5 L241.8,846.2 Z" fill="#a9a9a9"/>
<path d="M227.4,860.8 L222.1,855.4 L226.0,853.4 Z" fill="#a9a9a9"/>
<path d="M230.8,892.4 L226.8,886.0 L231.1,884.9 Z" fill="#a9a9a9"/>
<path d="M238.9,864.1 L244.0,858.7 L246.2,862.5 Z" fill="#a9a9a9"/>
<path d="M224.0,911.9 L219.7,918.0 L217.0,914.5 Z" fill="#a9a9a9"/>
<path d="M229.2,955.9 L222.5,952.5 L225.6,949.3 Z" fill="#a9a9a9"/>
<path d="M203.0,920.6 L202.2,913.1 L206.5,913.9 Z" fill="#a9a9a9"/>
<path d="M131.6,924.0 L137.9,928.2 L134.5,931.0 Z" fill="#a9a9a9"/>
<path d="M291.6,938.0 L285.9,942.8 L284.1,938.8 Z" fill="#a9a9a9"/>
<path d="M305.0,941.5 L311.1,946.0 L307.6,948.6 Z" fill="#a9a9a9"/>
<path d="M336.5,940.1 L338.0,947.4 L333.6,947.0 Z" fill="#a9a9a9"/>
<path d="M309.9,848.1 L311.2,855.5 L306.8,855.0 Z" fill="#a9a9a9"/>
<path d="M316.9,847.6 L320.7,854.1 L316.4,855.2 Z" fill="#a9a9a9"/>
<path d="M323.7,844.6 L329.6,849.2 L326.0,851.7 Z" fill="#a9a9a9"/>
<path d="M404.1,773.7 L399.0,779.3 L396.8,775.5 Z" fill="#a9a9a9"/>
<path d="M475.6,797.7 L469.0,801.2 L468.2,796.9 Z" fill="#a9a9a9"/>
<path d="M199.1,827.1 L206.3,825.0 L206.3,829.4 Z" fill="#a9a9a9"/>
<path d="M205.9,853.6 L212.4,849.8 L213.4,854.1 Z" fill="#a9a9a9"/>
<path d="M288.0,741.0 L292.1,747.3 L287.8,748.5 Z" fill="#a9a9a9"/>
<path d="M319.0,738.0 L320.6,745.3 L316.2,745.0 Z" fill="#a9a9a9"/>
<path d="M352.0,743.9 L350.9,751.3 L346.9,749.5 Z" fill="#a9a9a9"/>
<path d="M271.9,764.5 L277.6,769.4 L273.9,771.8 Z" fill="#a9a9a9"/>
<path d="M332.4,764.9 L332.3,772.4 L328.2,771.1 Z" fill="#a9a9a9"/>
<path d="M366.1,768.9 L362.9,775.7 L359.7,772.8 Z" fill="#a9a9a9"/>
<path d="M347.2,792.7 L343.7,799.4 L340.6,796.3 Z" fill="#a9a9a9"/>
<path d="M371.6,800.6 L366.0,805.7 L364.1,801.7 Z" fill="#a9a9a9"/>
<path d="M394.5,813.7 L387.8,817.1 L387.1,812.7 Z" fill="#a9a9a9"/>
<path d="M349.1,821.7 L342.4,825.1 L341.7,820.8 Z" fill="#a9a9a9"/>
<path d="M374.8,840.7 L367.3,841.5 L368.1,837.2 Z" fill="#a9a9a9"/>
<path d="M350.0,852.6 L342.8,850.6 L345.2,846.9 Z" fill="#a9a9a9"/>
<path d="M297.4,870.9 L297.7,863.3 L301.9,864.8 Z" fill="#a9a9a9"/>
<path d="M332.3,869.5 L327.2,864.0 L331.2,862.1 Z" fill="#a9a9a9"/>
<path d="M304.2,771.8 L307.4,778.6 L303.0,779.3 Z" fill="#a9a9a9"/>
<path d="M286.9,741.2 L290.1,748.1 L285.7,748.7 Z" fill="#a9a9a9"/>
<path d="M316.7,737.5 L316.3,745.0 L312.2,743.5 Z" fill="#a9a9a9"/>
<path d="M272.1,764.4 L277.9,769.1 L274.3,771.6 Z" fill="#a9a9a9"/>
<path d="M329.1,762.9 L325.7,769.6 L322.5,766.5 Z" fill="#a9a9a9"/>
<path d="M349.7,742.3 L346.2,749.0 L343.1,745.9 Z" fill="#a9a9a9"/>
<path d="M344.9,788.3 L338.2,791.8 L337.4,787.5 Z" fill="#a9a9a9"/>
<path d="M370.8,797.2 L363.6,799.5 L363.6,795.1 Z" fill="#a9a9a9"/>
<path d="M364.2,766.2 L358.5,771.2 L356.7,767.2 Z" fill="#a9a9a9"/>
<path d="M349.5,817.4 L342.0,817.1 L343.4,812.9 Z" fill="#a9a9a9"/>
<path d="M310.7,808.3 L308.0,801.2 L312.4,800.9 Z" fill="#a9a9a9"/>
<path d="M296.3,780.4 L294.7,773.0 L299.1,773.4 Z" fill="#a9a9a9"/>
<path d="M309.4,808.4 L306.2,801.6 L310.5,801.0 Z" fill="#a9a9a9"/>
<path d="M257.1,842.1 L253.8,835.3 L258.2,834.7 Z" fill="#a9a9a9"/>
<path d="M242.4,775.9 L246.4,782.3 L242.1,783.4 Z" fill="#a9a9a9"/>
<path d="M206.2,855.5 L213.3,852.9 L213.5,857.3 Z" fill="#a9a9a9"/>
<path d="M344.4,878.0 L351.7,876.6 L351.3,880.9 Z" fill="#a9a9a9"/>
<path d="M460.5,944.0 L453.4,941.3 L456.1,937.8 Z" fill="#a9a9a9"/>
<path d="M302.1,810.9 L296.6,805.8 L300.4,803.6 Z" fill="#a9a9a9"/>
<text x="99.0" y="731.4" font-size="8.1" fill="#000" stroke="#000" stroke-width="0.12" text-anchor="middle">RNF11</text>
<text x="160.3" y="721.7" font-size="8.1" fill="#000" stroke="#000" stroke-width="0.12" text-anchor="middle">USP25</text>
<text x="135.2" y="745.8" font-size="8.1" fill="#000" stroke="#000" stroke-width="0.12" text-anchor="middle">TIFA</text>
<text x="72.7" y="764.4" font-size="8.1" fill="#000" stroke="#000" stroke-width="0.12" text-anchor="middle">ARRB1</text>
<text x="107.7" y="774.3" font-size="8.1" fill="#000" stroke="#000" stroke-width="0.12" text-anchor="middle">BAG6</text>
<text x="56.5" y="799.9" font-size="8.1" fill="#000" stroke="#000" stroke-width="0.12" text-anchor="middle">CDC34</text>
<text x="93.4" y="811.1" font-size="8.1" fill="#000" stroke="#000" stroke-width="0.12" text-anchor="middle">CREB3L3</text>
<text x="63.9" y="837.6" font-size="8.1" fill="#000" stroke="#000" stroke-width="0.12" text-anchor="middle">BACH1</text>
<text x="159.0" y="820.4" font-size="8.4" fill="#4a4a4a" stroke="#4a4a4a" stroke-width="0.12" text-anchor="middle">TRAF6</text>
<text x="239.9" y="717.2" font-size="8.1" fill="#000" stroke="#000" stroke-width="0.12" text-anchor="middle">HSPA5</text>
<text x="304.1" y="705.8" font-size="8.1" fill="#000" stroke="#000" stroke-width="0.12" text-anchor="middle">STAT1</text>
<text x="285.0" y="735.4" font-size="8.4" fill="#4a4a4a" stroke="#4a4a4a" stroke-width="0.12" text-anchor="middle">IFNA6</text>
<text x="320.6" y="732.1" font-size="8.4" fill="#4a4a4a" stroke="#4a4a4a" stroke-width="0.12" text-anchor="middle">IFNA1</text>
<text x="356.2" y="738.8" font-size="8.4" fill="#4a4a4a" stroke="#4a4a4a" stroke-width="0.12" text-anchor="middle">IFNA11</text>
<text x="189.7" y="764.4" font-size="8.1" fill="#000" stroke="#000" stroke-width="0.12" text-anchor="middle">HSPA1B</text>
<text x="268.4" y="759.9" font-size="8.4" fill="#4a4a4a" stroke="#4a4a4a" stroke-width="0.12" text-anchor="middle">IFNA4</text>
<text x="242.8" y="769.9" font-size="8.1" fill="#000" stroke="#000" stroke-width="0.12" text-anchor="middle">CXCL1</text>
<text x="304.1" y="766.0" font-size="8.1" fill="#000" stroke="#000" stroke-width="0.12" text-anchor="middle">NMI</text>
<text x="336.1" y="759.4" font-size="8.4" fill="#4a4a4a" stroke="#4a4a4a" stroke-width="0.12" text-anchor="middle">IFNA5</text>
<text x="374.6" y="765.2" font-size="8.4" fill="#4a4a4a" stroke="#4a4a4a" stroke-width="0.12" text-anchor="middle">IFNA13</text>
<text x="412.4" y="771.9" font-size="8.4" fill="#4a4a4a" stroke="#4a4a4a" stroke-width="0.12" text-anchor="middle">TRIM35</text>
<text x="214.7" y="786.7" font-size="8.1" fill="#000" stroke="#000" stroke-width="0.12" text-anchor="middle">TBX3</text>
<text x="352.5" y="789.2" font-size="8.4" fill="#4a4a4a" stroke="#4a4a4a" stroke-width="0.12" text-anchor="middle">IFNAB</text>
<text x="295.1" y="800.6" font-size="8.7" fill="#4a4a4a" stroke="#4a4a4a" stroke-width="0.12" text-anchor="middle">MYD88</text>
<text x="381.7" y="799.6" font-size="8.4" fill="#4a4a4a" stroke="#4a4a4a" stroke-width="0.12" text-anchor="middle">IFNA15</text>
<text x="484.7" y="798.7" font-size="8.1" fill="#000" stroke="#000" stroke-width="0.12" text-anchor="middle">ISG15</text>
<text x="253.9" y="817.8" font-size="8.4" fill="#4a4a4a" stroke="#4a4a4a" stroke-width="0.12" text-anchor="middle">CHUK</text>
<text x="402.5" y="814.7" font-size="8.4" fill="#4a4a4a" stroke="#4a4a4a" stroke-width="0.12" text-anchor="middle">IFNA9</text>
<text x="360.3" y="822.7" font-size="8.4" fill="#4a4a4a" stroke="#4a4a4a" stroke-width="0.12" text-anchor="middle">IFNA2</text>
<text x="192.7" y="829.5" font-size="8.1" fill="#000" stroke="#000" stroke-width="0.12" text-anchor="middle">NLRC5</text>
<text x="312.7" y="832.6" font-size="12" font-weight="bold" text-anchor="middle">IRF7</text>
<text x="218.3" y="844.9" font-size="8.4" fill="#4a4a4a" stroke="#4a4a4a" stroke-width="0.12" text-anchor="middle">IKBKG</text>
<text x="386.0" y="844.9" font-size="8.4" fill="#4a4a4a" stroke="#4a4a4a" stroke-width="0.12" text-anchor="middle">IFNA12</text>
<text x="118.5" y="853.1" font-size="8.1" fill="#000" stroke="#000" stroke-width="0.12" text-anchor="middle">UBE2D3</text>
<text x="262.1" y="855.3" font-size="8.1" fill="#000" stroke="#000" stroke-width="0.12" text-anchor="middle">RELA</text>
<text x="197.7" y="858.5" font-size="8.1" fill="#000" stroke="#000" stroke-width="0.12" text-anchor="middle">BIRC3</text>
<text x="360.5" y="859.7" font-size="8.4" fill="#4a4a4a" stroke="#4a4a4a" stroke-width="0.12" text-anchor="middle">IFNA14</text>
<text x="73.4" y="870.5" font-size="8.1" fill="#000" stroke="#000" stroke-width="0.12" text-anchor="middle">ZC3H7A</text>
<text x="232.0" y="870.9" font-size="8.1" fill="#000" stroke="#000" stroke-width="0.12" text-anchor="middle">RSAD2</text>
<text x="149.8" y="878.3" font-size="8.1" fill="#000" stroke="#000" stroke-width="0.12" text-anchor="middle">IKBKE</text>
<text x="297.9" y="881.3" font-size="8.4" fill="#4a4a4a" stroke="#4a4a4a" stroke-width="0.12" text-anchor="middle">IFNA7</text>
<text x="339.2" y="879.6" font-size="8.4" fill="#4a4a4a" stroke="#4a4a4a" stroke-width="0.12" text-anchor="middle">IFNB1</text>
<text x="436.2" y="890.0" font-size="8.1" fill="#000" stroke="#000" stroke-width="0.12" text-anchor="middle">IRF3</text>
<text x="104.6" y="891.3" font-size="8.1" fill="#000" stroke="#000" stroke-width="0.12" text-anchor="middle">ECSIT</text>
<text x="168.2" y="906.5" font-size="8.1" fill="#000" stroke="#000" stroke-width="0.12" text-anchor="middle">MAP3K1</text>
<text x="234.9" y="906.9" font-size="8.4" fill="#4a4a4a" stroke="#4a4a4a" stroke-width="0.12" text-anchor="middle">IKBKB</text>
<text x="367.0" y="906.9" font-size="8.4" fill="#4a4a4a" stroke="#4a4a4a" stroke-width="0.12" text-anchor="middle">GBP4</text>
<text x="413.3" y="906.5" font-size="8.4" fill="#4a4a4a" stroke="#4a4a4a" stroke-width="0.12" text-anchor="middle">N-R5S118</text>
<text x="126.5" y="919.9" font-size="8.1" fill="#000" stroke="#000" stroke-width="0.12" text-anchor="middle">TNFRSF19</text>
<text x="203.9" y="931.7" font-size="8.1" fill="#000" stroke="#000" stroke-width="0.12" text-anchor="middle">RHBDD3</text>
<text x="340.6" y="934.2" font-size="8.4" fill="#4a4a4a" stroke="#4a4a4a" stroke-width="0.12" text-anchor="middle">IQSEC2</text>
<text x="302.2" y="937.0" font-size="8.4" fill="#4a4a4a" stroke="#4a4a4a" stroke-width="0.12" text-anchor="middle">IQSEC1</text>
<text x="472.1" y="951.6" font-size="8.1" fill="#000" stroke="#000" stroke-width="0.12" text-anchor="middle">HPGDS</text>
<text x="236.6" y="964.5" font-size="8.1" fill="#000" stroke="#000" stroke-width="0.12" text-anchor="middle">UBE3B</text>
<text x="170.5" y="970.8" font-size="8.1" fill="#000" stroke="#000" stroke-width="0.12" text-anchor="middle">YWHAH</text>
<text x="330.4" y="981.3" font-size="8.1" fill="#000" stroke="#000" stroke-width="0.12" text-anchor="middle">ARF4</text>
<text x="220.8" y="988.3" font-size="8.1" fill="#000" stroke="#000" stroke-width="0.12" text-anchor="middle">PSMC3</text>
<circle cx="541.2" cy="781.7" r="6.5" fill="#fff" stroke="#2e9a4c" stroke-width="1.5"/>
<text x="560.5" y="785.6" font-size="12.5">Hub gene</text>
<circle cx="541" cy="804.1" r="6.9" fill="#e4706a"/>
<text x="560.5" y="808.0" font-size="12.5">Upregulated genes</text>
<circle cx="541" cy="826.5" r="6.9" fill="#7b9fd4"/>
<text x="560.5" y="830.4" font-size="12.5">Downregulated genes</text>
<circle cx="541" cy="848.6" r="6.9" fill="#cbcbcb"/>
<text x="560.5" y="852.5" font-size="12.5">Not significant</text>
<rect x="534" y="872.75" width="35.6" height="6.1" fill="#c18fc9"/>
<text x="579.2" y="879.4" font-size="12.5">PP</text>
<rect x="534" y="887.6500000000001" width="35.6" height="6.1" fill="#d4e8a0"/>
<text x="579.2" y="894.3" font-size="12.5">RR</text>
<rect x="534" y="902.45" width="35.6" height="6.1" fill="#8ecfc2"/>
<text x="579.2" y="909.1" font-size="12.5">RT</text>
<rect x="534" y="917.35" width="35.6" height="6.1" fill="#ecd28f"/>
<text x="579.2" y="924.0" font-size="12.5">TP</text>
<rect x="534" y="931.95" width="35.6" height="6.1" fill="#a9a98a"/>
<text x="579.2" y="938.6" font-size="12.5">TR</text>
</svg>
</body></html>
